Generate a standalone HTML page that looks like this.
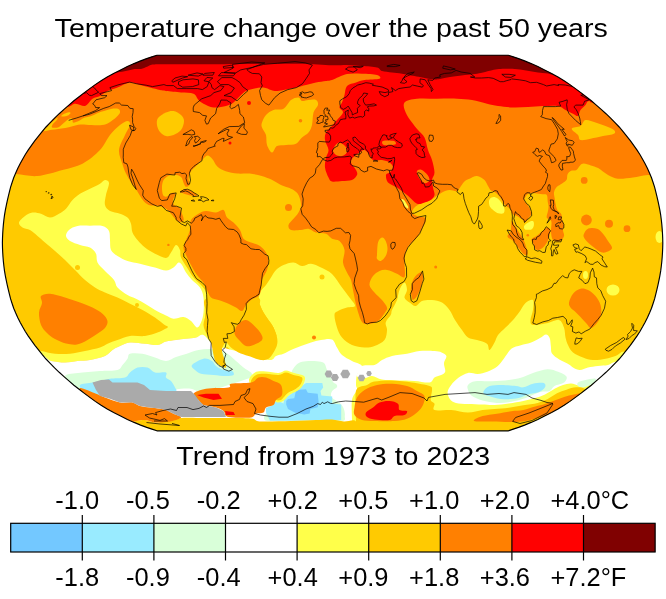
<!DOCTYPE html>
<html><head><meta charset="utf-8">
<style>
html,body{margin:0;padding:0;background:#fff;}
body{width:666px;height:599px;overflow:hidden;font-family:"Liberation Sans",sans-serif;}
svg{display:block}
text{font-family:"Liberation Sans",sans-serif;fill:#000}
.t{opacity:0.999}
</style></head><body>
<svg width="666" height="599" viewBox="0 0 666 599">
<rect width="666" height="599" fill="#fff"/>
<g class="t"><text transform="translate(331.2,36.8) scale(1.1,1)" font-size="26" text-anchor="middle">Temperature change over the past 50 years</text>
<text transform="translate(333.2,465) scale(1.1,1)" font-size="26" text-anchor="middle">Trend from 1973 to 2023</text></g>
<defs><clipPath id="cl"><path d="M156.9 430.8 L152.7 429.4 L146.7 427.4 L140.6 425.1 L134.1 422.4 L127.4 419.4 L120.6 416.1 L113.6 412.6 L107.2 409 L101.1 405.2 L95.3 401.4 L89.8 397.4 L84.4 393.4 L79.1 389.3 L73.9 385.2 L68.9 380.9 L64 376.6 L59.2 372.3 L54.6 367.9 L50.2 363.4 L46 359 L42.1 354.4 L38.5 349.9 L34.9 345.3 L31.5 340.7 L28.3 336.1 L25.3 331.5 L22.6 326.8 L20.1 322.2 L17.7 317.5 L15.6 312.8 L13.7 308.2 L12.1 303.5 L10.6 298.9 L9.4 294.2 L8.3 289.6 L7.2 284.9 L6.2 280.2 L5.3 275.6 L4.5 270.9 L3.9 266.3 L3.4 261.6 L3 257 L2.7 252.3 L2.5 247.7 L2.4 243 L2.5 238.3 L2.7 233.7 L3 229 L3.4 224.4 L3.9 219.7 L4.5 215.1 L5.3 210.4 L6.2 205.8 L7.2 201.1 L8.3 196.4 L9.4 191.8 L10.6 187.1 L12.1 182.5 L13.7 177.8 L15.6 173.2 L17.7 168.5 L20.1 163.8 L22.6 159.2 L25.3 154.5 L28.3 149.9 L31.5 145.3 L34.9 140.7 L38.5 136.1 L42.1 131.6 L46 127 L50.2 122.6 L54.6 118.1 L59.2 113.7 L64 109.4 L68.9 105.1 L73.9 100.8 L79.1 96.7 L84.4 92.6 L89.8 88.6 L95.3 84.6 L101.1 80.8 L107.2 77 L113.6 73.4 L120.6 69.9 L127.4 66.6 L134.1 63.6 L140.6 60.9 L146.7 58.6 L152.7 56.6 L156.9 55.2 L508.3 55.2 L512.5 56.6 L518.5 58.6 L524.6 60.9 L531.1 63.6 L537.8 66.6 L544.6 69.9 L551.6 73.4 L558 77 L564.1 80.8 L569.9 84.6 L575.4 88.6 L580.8 92.6 L586.1 96.7 L591.3 100.8 L596.3 105.1 L601.2 109.4 L606 113.7 L610.6 118.1 L615 122.6 L619.2 127 L623.1 131.6 L626.7 136.1 L630.3 140.7 L633.7 145.3 L636.9 149.9 L639.9 154.5 L642.6 159.2 L645.1 163.8 L647.5 168.5 L649.6 173.2 L651.5 177.8 L653.1 182.5 L654.6 187.1 L655.8 191.8 L656.9 196.4 L658 201.1 L659 205.8 L659.9 210.4 L660.7 215.1 L661.3 219.7 L661.8 224.4 L662.2 229 L662.5 233.7 L662.7 238.3 L662.8 243 L662.7 247.7 L662.5 252.3 L662.2 257 L661.8 261.6 L661.3 266.3 L660.7 270.9 L659.9 275.6 L659 280.2 L658 284.9 L656.9 289.6 L655.8 294.2 L654.6 298.9 L653.1 303.5 L651.5 308.2 L649.6 312.8 L647.5 317.5 L645.1 322.2 L642.6 326.8 L639.9 331.5 L636.9 336.1 L633.7 340.7 L630.3 345.3 L626.7 349.9 L623.1 354.4 L619.2 359 L615 363.4 L610.6 367.9 L606 372.3 L601.2 376.6 L596.3 380.9 L591.3 385.2 L586.1 389.3 L580.8 393.4 L575.4 397.4 L569.9 401.4 L564.1 405.2 L558 409 L551.6 412.6 L544.6 416.1 L537.8 419.4 L531.1 422.4 L524.6 425.1 L518.5 427.4 L512.5 429.4 L508.3 430.8Z"/></clipPath></defs>
<g clip-path="url(#cl)">
<rect x="0" y="50" width="666" height="385" fill="#FFCA00"/>
<path d="M19 222.5C19.4 220.6 22.8 217.7 25 216C27.2 214.3 29.8 212.9 32.5 212.5C35.2 212.1 38.1 212.9 41 213.7C43.9 214.5 47 217.5 50 217.5C53 217.5 56.3 215.2 59 213.7C61.7 212.2 63.8 211 66 208.7C68.2 206.4 70.2 202.5 72.5 200C74.8 197.5 77.1 195.6 80 193.7C82.9 191.8 86.7 190.4 90 188.7C93.3 187 97.5 185.1 100 183.7C102.5 182.2 103.5 180.1 105 180C106.5 179.9 108.8 180.5 109 183C109.2 185.5 106.7 191.3 106 195C105.3 198.7 104.3 202.3 105 205C105.7 207.7 107.5 209.6 110 211C112.5 212.4 117.1 212.6 120 213.7C122.9 214.8 125.7 215.8 127.5 217.5C129.3 219.2 130.2 221.2 131 223.7C131.8 226.2 131.4 229.8 132.5 232.5C133.6 235.2 135.4 237.5 137.5 240C139.6 242.5 142.1 245.2 145 247.5C147.9 249.8 151.5 251.9 155 253.7C158.5 255.4 163.3 258.2 166 258C168.7 257.8 169.3 254.7 171 252.5C172.7 250.3 174.5 245.4 176 245C177.5 244.6 179.2 247.9 180 250C180.8 252.1 179.8 254.6 181 257.5C182.2 260.4 184.9 264.2 187 267.5C189.1 270.8 191.2 274.6 193.5 277.5C195.8 280.4 198.9 282.5 201 285C203.1 287.5 205.2 289.2 206 292.5C206.8 295.8 206.2 300.4 206 305C205.8 309.6 205.3 315 205 320C204.7 325 205.5 332.1 204 335C202.5 337.9 199 336.9 196 337.5C193 338.1 189.3 338.3 186 338.7C182.7 339.1 179.3 339.5 176 340C172.7 340.5 169.1 340.7 166 341.5C162.9 342.3 161 344.6 157.5 345C154 345.4 149.6 344.1 145 343.7C140.4 343.3 134.2 342.1 130 342.5C125.8 342.9 122.9 344.8 120 346C117.1 347.2 115 348.3 112.5 350C110 351.7 108.8 354.3 105 356C101.2 357.7 94.6 359.2 90 360C85.4 360.8 81.7 360.6 77.5 361C73.3 361.4 69.4 362.5 65 362.5C60.6 362.5 55.5 361.8 51 361C46.5 360.2 40.8 359.8 38 358C35.2 356.2 33.5 351.2 34 350C34.5 348.8 37.5 350.4 41 351C44.5 351.6 50.2 353.2 55 353.7C59.8 354.1 65 354.1 70 353.7C75 353.2 80 352 85 351C90 350 96.2 348.7 100 347.5C103.8 346.3 104.6 344.9 107.5 343.7C110.4 342.4 113.8 341.3 117.5 340C121.2 338.7 125.4 336.7 130 336C134.6 335.3 140.4 336.6 145 336C149.6 335.4 154.3 333.6 157.5 332.5C160.7 331.4 162.2 330.4 164 329.5C165.8 328.6 168 327.8 168 327C168 326.2 166.2 326.1 164 324.5C161.8 322.9 158.6 319.9 155 317.5C151.4 315.1 146.7 312.3 142.5 310C138.3 307.7 134.2 305.8 130 303.7C125.8 301.6 121.7 299.4 117.5 297.5C113.3 295.6 108.8 294.2 105 292.5C101.2 290.8 98.3 289.6 95 287.5C91.7 285.4 88.3 282.9 85 280C81.7 277.1 78.3 273.3 75 270C71.7 266.7 68.3 263.2 65 260C61.7 256.8 58.3 253.9 55 251C51.7 248.1 47.9 245 45 242.5C42.1 240 40 238.1 37.5 236C35 233.9 32.5 231.4 30 230C27.5 228.6 24.3 228.8 22.5 227.5C20.7 226.2 18.6 224.4 19 222.5Z" fill="#FFFF4A"/>
<path d="M258.5 302.5C258.5 300.4 258.8 295.4 260 292.5C261.2 289.6 264.2 287.5 266 285C267.8 282.5 269.3 280 271 277.5C272.7 275 273.9 272.1 276 270C278.1 267.9 280.6 266.2 283.5 265C286.4 263.8 290.4 262.3 293.5 262.5C296.6 262.7 299.1 265.8 302 266C304.9 266.2 307.8 263.4 311 263.7C314.2 263.9 317.5 265.8 321 267.5C324.5 269.2 328.5 270.7 332 274C335.5 277.3 339.1 283.6 342 287.5C344.9 291.4 347.3 294.4 349.5 297.5C351.7 300.6 355.4 304.3 355 306C354.6 307.7 349.8 306.7 347 307.5C344.2 308.3 340.1 309.8 338 311C335.9 312.2 334.7 312.2 334.5 315C334.3 317.8 335.8 323.8 337 327.5C338.2 331.2 339.5 334.6 342 337.5C344.5 340.4 348.2 343.3 352 345C355.8 346.7 360.8 347.3 364.5 347.5C368.2 347.7 371.2 347.2 374.5 346C377.8 344.8 382.4 342.7 384.5 340C386.6 337.3 386.8 332.9 387 330C387.2 327.1 385.1 325 385.7 322.5C386.3 320 389.6 317.1 390.7 315C391.8 312.9 390.9 312.5 392 310C393.1 307.5 395.8 303.3 397 300C398.2 296.7 398.2 292.9 399.5 290C400.8 287.1 403.2 282.5 404.5 282.5C405.8 282.5 407 287.5 407 290C407 292.5 404.1 295.4 404.5 297.5C404.9 299.6 407.6 301.1 409.5 302.5C411.4 303.9 413.6 306.2 415.7 306C417.8 305.8 419.3 302 422 301C424.7 300 428.7 299.8 432 300C435.3 300.2 439.1 300.8 442 302.5C444.9 304.2 447.3 307.1 449.5 310C451.7 312.9 452.9 316.7 455 320C457.1 323.3 459.8 327.1 462 330C464.2 332.9 465.5 335.8 468 337.5C470.5 339.2 473.8 339 477 340C480.2 341 484.9 342 487 343.7C489.1 345.4 488.2 350.2 489.5 350C490.8 349.8 493.1 345 494.5 342.5C495.9 340 496.2 337.5 498 335C499.8 332.5 503 330 505.5 327.5C508 325 510.8 322.5 513 320C515.2 317.5 516.9 315.3 519 312.5C521.1 309.7 523.2 305.1 525.5 303C527.8 300.9 531.8 298.8 533 300C534.2 301.2 533.4 306.7 533 310C532.6 313.3 530.5 317.5 530.5 320C530.5 322.5 530.1 324.5 533 325C535.9 325.5 543.7 323.8 548 323C552.3 322.2 556.3 319.2 559 320C561.7 320.8 562.9 324.6 564 327.5C565.1 330.4 564.8 334.6 565.5 337.5C566.2 340.4 566.8 342.5 568 345C569.2 347.5 570.5 350.4 573 352.5C575.5 354.6 579.7 356.2 583 357.5C586.3 358.8 589.2 359.8 593 360C596.8 360.2 601.8 359.4 605.5 358.7C609.2 358 612.2 357.1 615.5 356C618.8 354.9 622.2 349.7 625 352C627.8 354.3 632.8 362 632 370C631.2 378 625.3 388.3 620 400C614.7 411.7 620 433.3 600 440C580 446.7 533.3 440 500 440C466.7 440 433.3 440 400 440C366.7 440 322 440 300 440C278 440 273.3 446.7 268 440C262.7 433.3 267.9 413.3 268 400C268.1 386.7 267.6 367.9 268.5 360C269.4 352.1 272.1 355 273.5 352.5C274.9 350 276.4 347.5 277 345C277.6 342.5 277.6 340.4 277 337.5C276.4 334.6 274.9 330.4 273.5 327.5C272.1 324.6 270.2 322.5 268.5 320C266.8 317.5 264.9 315 263.5 312.5C262.1 310 260.8 306.7 260 305C259.2 303.3 258.5 304.6 258.5 302.5Z" fill="#FFFF4A"/>
<path d="M490 198.7C490.8 197.9 492.3 197 493.6 197C494.9 197 496.6 197.7 498 198.7C499.4 199.7 500.6 201.5 501.7 203.2C502.8 204.8 504.1 206.9 504.4 208.6C504.7 210.3 504.6 212.4 503.5 213.2C502.4 214 499.6 213.6 498 213.2C496.4 212.8 494.9 211.6 493.6 210.5C492.3 209.4 490.8 208.2 490 206.8C489.2 205.4 489 203.3 489 202C489 200.7 489.2 199.5 490 198.7Z" fill="#FFFF4A"/>
<path d="M524.2 225.8C524.8 224.6 527.2 222.9 528.7 222.2C530.2 221.4 532.4 220.7 533.2 221.3C534.1 221.9 534.1 224.5 533.8 225.8C533.5 227.2 532.8 228.8 531.4 229.4C530 230 526.3 230 525.1 229.4C523.9 228.8 523.6 227 524.2 225.8Z" fill="#FFFF4A"/>
<ellipse cx="613" cy="290" rx="6.5" ry="5.5" fill="#FFFF4A"/>
<ellipse cx="659.5" cy="237" rx="4" ry="6" fill="#FFFF4A"/>
<ellipse cx="585.5" cy="275" rx="2.5" ry="4" fill="#FFFF4A"/>
<path d="M201 322C194.8 324.7 201.8 332.3 203 336C204.2 339.7 206.8 340.7 208 344C209.2 347.3 209.7 352.7 210.5 356C211.3 359.3 211.6 361.8 213 364C214.4 366.2 216.3 367.9 219 369C221.7 370.1 227.5 372 229 370.5C230.5 369 228.6 363.2 228 360C227.4 356.8 225.7 353.2 225.5 351C225.3 348.8 226.1 347 227 347C227.9 347 229.2 349.6 231 351C232.8 352.4 235.2 354.2 238 355.5C240.8 356.8 244.2 357.8 248 359C251.8 360.2 257.3 362.6 261 363C264.7 363.4 267.3 362.8 270 361.5C272.7 360.2 275.2 357.6 277 355C278.8 352.4 282.2 350.2 281 346C279.8 341.8 276.8 334.3 270 330C263.2 325.7 251.5 321.3 240 320C228.5 318.7 207.2 319.3 201 322Z" fill="#FFFF4A"/>
<path d="M66 236C65.8 234.2 67.1 231.7 69 230C70.9 228.3 74 226.7 77.5 226C81 225.3 85.8 225.7 90 225.7C94.2 225.7 99.3 225.1 102.5 226C105.7 226.9 107.8 228.7 109 231C110.2 233.3 109.7 236.8 110 240C110.3 243.2 109.8 247.3 111 250C112.2 252.7 114.8 254.2 117.5 256C120.2 257.8 123.8 259.7 127.5 261C131.2 262.3 135.4 262.6 140 263.7C144.6 264.8 150.7 266.4 155 267.5C159.3 268.6 162.9 270.5 166 270.5C169.1 270.5 171.4 268.8 173.5 267.5C175.6 266.2 177.1 262.9 178.5 262.5C179.9 262.1 180.8 263.3 182 265C183.2 266.7 184.3 270 186 272.5C187.7 275 189.7 277.5 192 280C194.3 282.5 198.1 284.6 200 287.5C201.9 290.4 202.9 293.3 203.5 297.5C204.1 301.7 203.9 308.3 203.5 312.5C203.1 316.7 202.1 320 201 322.5C199.9 325 198.7 327.8 197 327.5C195.3 327.2 193.2 322.8 191 321C188.8 319.2 186.4 317.4 183.5 317C180.6 316.6 176.4 318.9 173.5 318.7C170.6 318.4 169.1 316.9 166 315.5C162.9 314.1 158.5 312 155 310C151.5 308 148.2 305.6 145 303.7C141.8 301.8 138.9 300.1 136 298.7C133.1 297.2 130.6 296.9 127.5 295C124.4 293.1 119.8 290 117.5 287.5C115.2 285 116.1 282.8 114 280C111.9 277.2 107.8 273.9 105 271C102.2 268.1 99 265.4 97.5 262.5C96 259.6 97.2 256.2 96 253.7C94.8 251.2 92.7 248.9 90 247.5C87.3 246.1 83.3 246.1 80 245C76.7 243.9 72.3 242.5 70 241C67.7 239.5 66.2 237.8 66 236Z" fill="#FFFFFF"/>
<path d="M40 358C42.7 351.5 46.8 360.2 51 361C55.2 361.8 60.6 362.5 65 362.5C69.4 362.5 73.3 361.4 77.5 361C81.7 360.6 85.4 360.8 90 360C94.6 359.2 101.2 357.7 105 356C108.8 354.3 110 351.7 112.5 350C115 348.3 117.1 347.2 120 346C122.9 344.8 125.8 342.9 130 342.5C134.2 342.1 140.4 343.3 145 343.7C149.6 344.1 154 345.4 157.5 345C161 344.6 162.9 342.3 166 341.5C169.1 340.7 172.7 340.5 176 340C179.3 339.5 182.7 339.1 186 338.7C189.3 338.3 193.1 338.1 196 337.5C198.9 336.9 200.3 333.8 203.5 335C206.7 336.2 208.9 342.2 215 345C221.1 347.8 231.1 349.5 240 352C248.9 354.5 262.5 359.3 268.5 360C274.5 360.7 273.5 357.1 276 356C278.5 354.9 281 354.7 283.5 353.7C286 352.7 288.1 351.3 291 350C293.9 348.7 297.7 347.2 301 346C304.3 344.8 307.7 343.5 311 342.5C314.3 341.5 317.5 340.5 321 340C324.5 339.5 329.3 338.2 332 339.5C334.7 340.8 335.3 344.9 337 347.5C338.7 350.1 339.5 352.8 342 355C344.5 357.2 348.7 359.2 352 361C355.3 362.8 361.2 363.7 362 366C362.8 368.3 358 371.8 357 375C356 378.2 356 382.5 356 385C356 387.5 357.7 387.5 357 390C356.3 392.5 352.8 395 352 400C351.2 405 352 413.3 352 420C352 426.7 360.7 436.7 352 440C343.3 443.3 325.3 440 300 440C274.7 440 233.3 440 200 440C166.7 440 126.7 440 100 440C73.3 440 50.8 446.7 40 440C29.2 433.3 35 413.7 35 400C35 386.3 37.3 364.5 40 358Z" fill="#FFFFFF"/>
<path d="M362 366C364.9 364.2 371.2 366 374.5 365C377.8 364 379.1 361.5 382 360C384.9 358.5 387.8 357.1 392 356C396.2 354.9 402.4 354.5 407 353.7C411.6 352.9 414.9 351.4 419.5 351C424.1 350.6 430.8 350.8 434.5 351C438.2 351.2 439.6 351.6 441.6 352.4C443.6 353.2 446 354.2 446.4 356C446.8 357.8 444.2 360.6 444 363.2C443.8 365.8 445.8 369.7 445.2 371.7C444.6 373.7 442.2 374.3 440.4 375.3C438.6 376.3 436.3 376.3 434.5 377.5C432.7 378.7 432.8 381.9 429.5 382.5C426.2 383.1 419.9 381.3 414.5 381C409.1 380.7 402.4 380.8 397 380.5C391.6 380.2 386.2 380.2 382 379.5C377.8 378.8 374.8 376.2 372 376C369.2 375.8 367.5 378 365 378C362.5 378 357.5 378 357 376C356.5 374 359.1 367.8 362 366Z" fill="#FFFFFF"/>
<path d="M447.6 392C447.8 389.6 449.4 387.3 451.2 384.9C453 382.5 455.6 379.7 458.4 377.7C461.2 375.7 464.8 373.5 468 372.9C471.2 372.3 474.5 374.2 477.7 374C480.9 373.8 484.1 372.9 487.3 371.7C490.5 370.5 494.1 369 496.9 366.8C499.7 364.6 501.6 361.4 504 358.4C506.4 355.4 508.5 351 511.3 348.8C514.1 346.6 517.7 346.2 520.9 345.2C524.1 344.2 527.3 344 530.5 342.8C533.7 341.6 537.4 339.4 540 338C542.6 336.6 544.4 334.4 546 334.4C547.6 334.4 548.9 336 549.7 338C550.5 340 550.5 343.8 550.9 346.4C551.3 349 550.6 351.4 552 353.6C553.4 355.8 556.5 357.8 559.3 359.6C562.1 361.4 566.6 363 569 364.4C571.4 365.8 572 367.1 573.8 368C575.6 368.9 577.6 370.1 580 370C582.4 369.9 585 368.2 588 367.5C591 366.8 594.7 366.4 598 366C601.3 365.6 605 365.7 608 365C611 364.3 614.3 361.2 616 362C617.7 362.8 620.7 367.2 618 370C615.3 372.8 604.7 376.8 600 379C595.3 381.2 593.3 381.9 590 383C586.7 384.1 583.2 385.4 580 385.5C576.8 385.6 573.8 383.6 571 383.5C568.2 383.4 565.7 384.2 563 385C560.3 385.8 558 386.9 555 388.5C552 390.1 548.3 392.9 545 394.5C541.7 396.1 538.9 396.9 535.3 398C531.7 399.1 527.7 400.1 523.3 401C518.9 401.9 513.7 402.8 508.9 403.5C504.1 404.2 498.9 404.8 494.5 405C490.1 405.2 486.9 404.8 482.5 404.6C478.1 404.4 472.4 404.3 468 404C463.6 403.7 459 403.7 456 402.9C453 402.1 451.4 401.1 450 399.3C448.6 397.5 447.4 394.4 447.6 392Z" fill="#FFFFFF"/>
<path d="M66 375C68.8 373.4 76.8 373.2 82.5 372.5C88.2 371.8 94.2 371.4 100 371C105.8 370.6 113.8 371 117.5 370C121.2 369 120.8 366.9 122.5 365C124.2 363.1 126.2 360.6 127.5 358.7C128.8 356.8 127.5 354.5 130 353.7C132.5 352.9 138.3 353.1 142.5 353.7C146.7 354.3 151.1 356.3 155 357.5C158.9 358.7 162.5 361.1 166 361C169.5 360.9 172.7 358.2 176 357C179.3 355.8 182.2 355.2 186 354C189.8 352.8 194.2 350.8 198.5 350C202.8 349.2 207.6 348.7 212 349C216.4 349.3 221 350 225 352C229 354 232.9 358.4 236 361C239.1 363.6 241 365.6 243.5 367.5C246 369.4 249.6 371.1 251 372.5C252.4 373.9 252 375.2 252 376C252 376.8 252.8 376.7 251 377.5C249.2 378.3 244.8 379.8 241 381C237.2 382.2 231.8 383.9 228.5 385C225.2 386.1 223.9 386.7 221 387.5C218.1 388.3 214.8 389.4 211 390C207.2 390.6 201.8 391.2 198.5 391C195.2 390.8 193.9 389.1 191 388.7C188.1 388.3 183.9 388.5 181 388.7C178.1 388.9 176 389.3 173.5 390C171 390.7 173.2 392.2 166 393C158.8 393.8 141 394.7 130 395C119 395.3 108.3 395.5 100 395C91.7 394.5 85.7 394.2 80 392C74.3 389.8 68.3 384.8 66 382C63.7 379.2 63.2 376.6 66 375Z" fill="#D9FFD9"/>
<path d="M293.4 368.5C294.5 366.7 296.7 364.3 298.8 363.1C300.9 361.9 303 361.6 306 361.3C309 361 313.8 361 316.8 361.3C319.8 361.6 322.3 361.8 324 363.1C325.7 364.5 325.9 367.4 326.8 369.4C327.7 371.3 328.5 372.7 329.5 374.8C330.5 376.9 331.8 380.4 333 382C334.2 383.6 336.1 383.8 336.7 384.7C337.3 385.6 337.4 386.3 336.7 387.4C335.9 388.4 333.1 389.4 332.2 391C331.3 392.6 330.1 394.9 331.5 397C332.9 399.1 338.2 401.6 340.3 403.6C342.4 405.6 343.1 406.9 343.9 409C344.6 411.1 345.1 414.3 344.8 416.3C344.5 418.3 346.8 420.4 342 421C337.2 421.6 324.5 420 316 420C307.5 420 299 420.8 291 421C283 421.2 272.5 421.6 268 421C263.5 420.4 264.2 419 264 417.5C263.8 416 265.2 414.6 267 412C268.8 409.4 271.2 405.7 275 402C278.8 398.3 285.8 393.7 290 390C294.2 386.3 299.7 382.7 300 380C300.3 377.3 293.1 375.9 292 374C290.9 372.1 292.3 370.3 293.4 368.5Z" fill="#D9FFD9"/>
<path d="M468 384.9C469.2 383.5 471.3 381.9 475.3 381.3C479.3 380.7 486.4 381.5 492 381.3C497.6 381.1 504.1 380.6 508.9 380C513.7 379.4 516.9 378.9 520.9 377.7C524.9 376.5 528.6 374.3 533 372.9C537.4 371.5 543.1 369.4 547.3 369.2C551.5 369 554.9 370.5 558.1 371.7C561.3 372.9 565.5 374.7 566.5 376.5C567.5 378.3 566.1 380.9 564.1 382.5C562.1 384.1 556.9 384.6 554.5 386C552.1 387.4 552.1 389.9 549.7 390.9C547.3 391.9 544 390.8 540 392C536 393.2 530.5 396.4 525.7 398C520.9 399.6 516.1 400.9 511.3 401.7C506.5 402.5 501.7 403.1 496.9 402.9C492.1 402.7 486.7 401.7 482.5 400.5C478.3 399.3 474.1 397.5 471.7 395.7C469.3 393.9 468.6 391.5 468 389.7C467.4 387.9 466.8 386.3 468 384.9Z" fill="#D9FFD9"/>
<path d="M578 382.5C579.2 381.5 582.6 380.6 585.5 380C588.4 379.4 594.2 378.1 595.5 378.7C596.8 379.3 595.1 382.2 593 383.7C590.9 385.2 585.5 387.1 583 387.5C580.5 387.9 578.8 386.8 578 386C577.2 385.2 576.8 383.5 578 382.5Z" fill="#D9FFD9"/>
<path d="M80 385C81.2 383.4 89.2 383.2 92.5 382.5C95.8 381.8 97.1 381.6 100 381C102.9 380.4 105.8 379.3 110 378.7C114.2 378.1 121.7 378.5 125 377.5C128.3 376.5 127.9 374.2 130 372.5C132.1 370.8 134.6 368.3 137.5 367.5C140.4 366.7 144.6 366.7 147.5 367.5C150.4 368.3 151.9 371.7 155 372.5C158.1 373.3 164.2 371.7 166 372.5C167.8 373.3 165.2 376.1 166 377.5C166.8 378.9 169.5 379.3 171 381C172.5 382.7 174.2 385.8 175 387.5C175.8 389.2 177.5 390.1 176 391C174.5 391.9 173.7 392.3 166 393C158.3 393.7 141 394.7 130 395C119 395.3 107.5 395.5 100 395C92.5 394.5 88.3 393.7 85 392C81.7 390.3 78.8 386.6 80 385Z" fill="#99EBFF"/>
<path d="M192 365C193.4 363.1 200.2 359.4 203.5 358.7C206.8 358 209.9 359.8 212 361C214.1 362.2 214.1 364.5 216 366C217.9 367.5 220.8 369.2 223.5 370C226.2 370.8 230.3 370.2 232 371C233.7 371.8 234.5 374.2 233.5 375C232.5 375.8 229.3 376 226 376C222.7 376 217.7 375.4 213.5 375C209.3 374.6 204.1 374.5 201 373.7C197.9 372.9 196.5 371.4 195 370C193.5 368.6 190.6 366.9 192 365Z" fill="#99EBFF"/>
<path d="M266 412.5 L266 408 L273.5 405 L276 400 L283.5 403.6 L284.4 398.2 L291.6 393.7 L293.4 390.1 L297 389.2 L306 383 L322.3 383 L323.2 387.4 L320.5 391 L321.4 395.5 L332.2 396.4 L332.2 403.6 L341.2 404.5 L341.2 420 L270 420.8Z" fill="#99EBFF"/>
<path d="M483.7 390.9C484.5 389.5 486.7 387 489.7 386C492.7 385 497.3 384.9 501.7 384.9C506.1 384.9 512.4 385.6 516 386C519.6 386.4 520.5 387.7 523.3 387.3C526.1 386.9 529.6 384.4 533 383.7C536.4 383 541.7 382.4 543.7 383C545.7 383.6 545.8 385.8 545 387.3C544.2 388.8 541.8 390.8 539 392C536.2 393.2 531.4 393.5 528 394.5C524.6 395.5 522.5 397.2 518.5 398C514.5 398.8 508.4 399.5 504 399.3C499.6 399.1 495.2 397.7 492 396.9C488.8 396.1 486.3 395.5 484.9 394.5C483.5 393.5 482.9 392.3 483.7 390.9Z" fill="#99EBFF"/>
<path d="M286.2 401 L288 399.1 L294.3 398.2 L296.1 390.1 L306 389.2 L307.8 392.8 L317.7 393.7 L318.6 401.8 L317.7 407.3 L310.5 409 L309.6 413.6 L304.2 414.5 L295.2 412.7 L288 409 L286.2 404.5Z" fill="#73C8FF"/>
<path d="M204.7 300C202.4 302.9 206.2 308.3 206 312.5C205.8 316.7 203.3 321.2 203.5 325C203.7 328.8 205.8 332.1 207 335C208.2 337.9 209.9 339.2 211 342.5C212.1 345.8 212.7 351.7 213.5 355C214.3 358.3 214.8 360.7 216 362.5C217.2 364.3 219.3 365.2 221 366C222.7 366.8 225.4 368.5 226 367.5C226.6 366.5 225.4 362.9 224.7 360C224 357.1 221.8 352.9 222 350C222.2 347.1 224.5 342.9 226 342.5C227.5 342.1 228.9 345.8 231 347.5C233.1 349.2 235.6 351.1 238.5 352.5C241.4 353.9 244.8 354.8 248.5 356C252.2 357.2 257.7 359.6 261 360C264.3 360.4 266.4 359.9 268.5 358.7C270.6 357.4 272.1 354.8 273.5 352.5C274.9 350.2 276.4 347.5 277 345C277.6 342.5 277.6 340.4 277 337.5C276.4 334.6 274.9 330.4 273.5 327.5C272.1 324.6 270.2 322.5 268.5 320C266.8 317.5 264.9 315 263.5 312.5C262.1 310 260.8 307.4 260 305C259.2 302.6 261.8 299.7 258.5 298C255.2 296.3 246.4 295.5 240 295C233.6 294.5 225.9 294.2 220 295C214.1 295.8 207 297.1 204.7 300Z" fill="#FFCA00"/>
<path d="M249 381C248.5 377.9 252.2 374.1 255 372.5C257.8 370.9 262.1 371.4 266 371.5C269.9 371.6 275.2 373.2 278.5 373C281.8 372.8 283.4 370.5 286 370.5C288.6 370.5 290.9 372 294 373C297.1 374 303 374.5 304.5 376.5C306 378.5 304.1 382.7 303 385C301.9 387.3 300.2 388.9 298 390.5C295.8 392.1 292.2 393 290 394.5C287.8 396 286.5 398.2 285 399.5C283.5 400.8 282.5 401.6 281 402C279.5 402.4 278.2 403 276 402C273.8 401 271 397.8 268 396C265 394.2 261.2 393.5 258 391C254.8 388.5 249.5 384.1 249 381Z" fill="#FFFF4A"/>
<path d="M251 382.5C250.3 380 253.5 376.5 256 375C258.5 373.5 262.2 373.7 266 373.7C269.8 373.7 275.2 375.2 278.5 375C281.8 374.8 283.5 372.5 286 372.5C288.5 372.5 290.8 374.2 293.5 375C296.2 375.8 300.8 376.1 302 377.5C303.2 378.9 302 381.8 301 383.7C300 385.6 298.1 387.2 296 388.7C293.9 390.2 290.6 391 288.5 392.5C286.4 394 284.8 396.2 283.5 397.5C282.2 398.8 282.2 399.6 281 400C279.8 400.4 277.8 400.8 276 400C274.2 399.2 272.7 396.7 270 395C267.3 393.3 263.2 392.1 260 390C256.8 387.9 251.7 385 251 382.5Z" fill="#FFCA00"/>
<path d="M356 421C355.9 414.3 355.3 405.4 355.5 400C355.7 394.6 355.1 391.2 357 388.7C358.9 386.2 364.1 386.2 367 385C369.9 383.8 370.3 382.2 374.5 381.5C378.7 380.8 385.8 380.3 392 380.5C398.2 380.7 405.8 381.6 412 382.5C418.2 383.4 426.2 384.8 429.5 386C432.8 387.2 431.8 387.7 432 390C432.2 392.3 430.3 397.7 430.7 400C431.1 402.3 433.9 402 434.5 403.7C435.1 405.4 431.7 408.9 434.5 410C437.3 411.1 445.6 409.6 451.2 410C456.8 410.4 462.8 412.5 468 412.5C473.2 412.5 478.1 410.6 482.5 410C486.9 409.4 490.1 409.3 494.5 408.9C498.9 408.5 504.1 408.3 508.9 407.7C513.7 407.1 518.5 406.1 523.3 405.3C528.1 404.5 533.7 403.9 537.7 402.9C541.7 401.9 544.1 400.9 547.3 399.3C550.5 397.7 553.8 394.9 557 393.3C560.2 391.7 563.3 390.7 566.5 389.7C569.7 388.7 572.9 387.4 576 387.3C579.1 387.2 581 386.9 585 389C589 391.1 597.5 391.5 600 400C602.5 408.5 616.7 433.3 600 440C583.3 446.7 533.3 440 500 440C466.7 440 424 440 400 440C376 440 363.3 443.2 356 440C348.7 436.8 356.1 427.7 356 421Z" fill="#FFCA00"/>
<path d="M128 426C129.3 422.8 133.2 422 136 421C138.8 420 141.8 419.8 145 420C148.2 420.2 151.5 422.3 155 422.5C158.5 422.7 161.7 421.8 166 421C170.3 420.2 175.3 418.5 181 418C186.7 417.5 192.5 418 200 418C207.5 418 217.5 417.9 226 418C234.5 418.1 245.2 417.9 251 418.5C256.8 419.1 254.3 421.1 261 421.5C267.7 421.9 281.8 421.2 291 421C300.2 420.8 309.2 420.2 316 420C322.8 419.8 327.3 419.2 332 419.5C336.7 419.8 340 421.2 344 421.5C348 421.8 354 418.4 356 421.5C358 424.6 373.7 436.9 356 440C338.3 443.1 288 440 250 440C212 440 148.3 442.3 128 440C107.7 437.7 126.7 429.2 128 426Z" fill="#FFCA00"/>
<circle cx="77.5" cy="267.5" r="2.5" fill="#FFCA00"/>
<circle cx="137" cy="305" r="2" fill="#FFCA00"/>
<circle cx="322" cy="277" r="2.5" fill="#FFCA00"/>
<path d="M-5 174C-1.5 186.3 8.9 173.7 16 174C23.1 174.3 29.8 176.7 37.5 176C45.2 175.3 55 172.1 62.5 170C70 167.9 76.2 167 82.5 163.7C88.8 160.4 95.4 154.8 100 150C104.6 145.2 106.7 139.2 110 135C113.3 130.8 117.1 127.3 120 125C122.9 122.7 125.8 121 127.5 121C129.2 121 130.4 122.7 130 125C129.6 127.3 126.8 130.8 125 135C123.2 139.2 119.4 145.2 119 150C118.6 154.8 121.2 160.1 122.4 164C123.6 167.9 124.6 170.6 126 173.6C127.4 176.6 129 179.2 130.8 182C132.6 184.8 134.8 187.5 136.8 190.5C138.8 193.5 140.8 197.6 142.8 200C144.8 202.4 146.2 203.9 148.8 204.9C151.4 205.9 155.6 205.4 158.4 206C161.2 206.6 163.6 207.4 165.5 208.5C167.4 209.6 168.4 210.8 170 212.5C171.6 214.2 173.4 216.9 175 218.5C176.6 220.1 178.1 221.8 179.5 222C180.9 222.2 183.4 221.5 183.7 219.8C184 218.1 182.1 214.1 181.3 212C180.5 209.9 180.1 208.5 178.9 207.3C177.7 206.1 175 206.1 174 204.9C173 203.7 172.7 201.8 172.9 200C173.1 198.2 175.5 195.2 175.3 194C175.1 192.8 173.1 192.5 171.7 192.9C170.3 193.3 168.2 196.1 166.8 196.5C165.4 196.9 164 196.7 163.2 195.3C162.4 193.9 162 190.4 162 188C162 185.6 162.2 182.8 163.2 180.8C164.2 178.8 166 177 168 176C170 175 173.1 174.6 175.3 174.8C177.5 175 179.9 175.8 181.3 177.2C182.7 178.6 182.9 181.6 183.7 183.2C184.5 184.8 185 186.6 186 186.8C187 187 189.3 185.8 189.7 184.4C190.1 183 188.3 180.6 188.5 178.4C188.7 176.2 189.5 173.4 190.9 171.2C192.3 169 194.9 167.2 196.9 165.2C198.9 163.2 201.1 160.8 202.9 159.2C204.7 157.6 206.1 155.6 207.7 155.6C209.3 155.6 210.9 157.4 212.5 159.2C214.1 161 215.1 164.4 217.3 166.4C219.5 168.4 222.3 170 225.7 171.2C229.1 172.4 233.7 173.2 237.7 173.6C241.7 174 245.7 173.2 249.7 173.6C253.7 174 258.1 175 261.7 176C265.3 177 268.2 178.2 271.3 179.6C274.4 181 277.2 183.1 280 184.4C282.8 185.7 285.8 186.6 288 187.5C290.2 188.4 291.8 188.8 293.5 190C295.2 191.2 297.2 192.5 298.5 195C299.8 197.5 301 202.1 301 205C301 207.9 299.8 210.2 298.5 212.5C297.2 214.8 295.2 216.6 293.5 218.7C291.8 220.8 288.9 223.1 288.5 225C288.1 226.9 288.9 229.2 291 230C293.1 230.8 298.1 230.2 301 230C303.9 229.8 306 228.3 308.5 228.7C311 229.1 313.1 231.7 316 232.5C318.9 233.3 323.3 232.7 326 233.7C328.7 234.7 329.8 237.5 332 238.7C334.2 239.9 337.4 239.1 339.5 241C341.6 242.9 343.9 246.4 344.5 250C345.1 253.6 342.6 258.8 343 262.5C343.4 266.2 345.7 269.6 347 272.5C348.3 275.4 350 277.1 351 280C352 282.9 352.3 286.7 353 290C353.7 293.3 354.2 296.3 355 300C355.8 303.7 356.8 308.3 358 312C359.2 315.7 360.3 320 362 322C363.7 324 365.3 324.2 368 324C370.7 323.8 375.2 322.9 378 321C380.8 319.1 383.5 314.8 385 312.5C386.5 310.2 387.5 309.6 387 307.5C386.5 305.4 384.1 302.5 382 300C379.9 297.5 376.6 295 374.5 292.5C372.4 290 369.8 287.8 369.5 285C369.2 282.2 371.3 278.3 373 276C374.7 273.7 377.2 272 379.5 271C381.8 270 384.1 269.6 387 270C389.9 270.4 394.1 272.5 397 273.7C399.9 274.9 403.2 278.9 404.5 277C405.8 275.1 404.3 266.6 404.5 262.5C404.7 258.4 404.9 255.4 405.7 252.5C406.5 249.6 407.6 247.5 409.5 245C411.4 242.5 414.9 240.2 417 237.5C419.1 234.8 420.6 231.4 422 228.7C423.4 225.9 425.3 222.9 425.7 221C426.1 219.1 425.9 218.3 424.5 217.5C423.1 216.7 419.1 216.8 417 216C414.9 215.2 412.4 213.9 412 212.5C411.6 211.1 413.2 208.9 414.5 207.5C415.8 206.1 417.3 205.2 420 204C422.7 202.8 428.3 201.1 430.7 200C433.1 198.9 432.6 198.8 434.5 197.5C436.4 196.2 439.5 193.8 442 192.5C444.5 191.2 447 190.2 449.5 190C452 189.8 455.1 191.7 457 191C458.9 190.3 459.7 187.7 461 186C462.3 184.3 463.6 182.2 465 181C466.4 179.8 467.5 179.5 469.5 178.7C471.5 177.9 474.5 175.8 477 176C479.5 176.2 482.7 178.3 484.5 180C486.3 181.7 486.9 184.2 488 186C489.1 187.8 489.8 189.5 491 190.6C492.2 191.7 494.1 191.5 495.4 192.4C496.7 193.3 497.8 194.5 499 196C500.2 197.5 501.4 199.7 502.6 201.4C503.8 203.1 505 204.8 506.2 206C507.4 207.2 508.8 207.3 509.8 208.6C510.9 209.9 511.3 212.8 512.5 214C513.7 215.2 515.4 215 517 215.9C518.6 216.8 521 218.4 522.4 219.5C523.8 220.6 524 222.5 525.1 222.2C526.2 221.9 527.7 219.1 528.7 217.7C529.8 216.3 531.2 215.5 531.4 214C531.5 212.5 530.4 210.2 529.6 208.6C528.9 206.9 527.8 205.4 526.9 204.1C526 202.8 524.4 201.8 524.2 200.5C524.1 199.2 525.1 197.2 526 196C526.9 194.8 528.1 193.8 529.6 193.3C531.1 192.9 532.9 193.2 535 193.3C537.1 193.5 540.3 193.9 542.3 194.2C544.3 194.5 545.9 193.9 546.8 195.1C547.7 196.3 547.4 199.4 547.7 201.4C548 203.4 548.6 205 548.6 206.8C548.6 208.6 548 210.5 547.7 212.3C547.4 214.1 546.2 216.2 546.8 217.7C547.4 219.2 550.6 218.9 551.3 221.3C552 223.7 550.7 228.9 551 232C551.3 235.1 551.5 238.5 553 240C554.5 241.5 558.2 241.7 560 241C561.8 240.3 563.5 237.8 564 236C564.5 234.2 563 232.2 563 230.3C563 228.5 564 226.7 563.9 224.9C563.8 223.1 562.5 221.3 562.1 219.5C561.7 217.7 562 215.5 561.2 214C560.5 212.5 558.5 212 557.6 210.5C556.7 209 556.2 206.8 555.8 205C555.3 203.2 555.2 201.7 554.9 199.6C554.6 197.5 553.7 194.5 554 192.4C554.3 190.3 555.4 188.5 556.7 187C558.1 185.5 560.5 184.6 562.1 183.4C563.8 182.2 565.7 181.3 566.6 179.8C567.5 178.3 566.8 175.9 567.5 174.4C568.2 172.9 569.6 171.6 571.1 170.8C572.6 170.1 575 170.8 576.5 169.9C578 169 578.9 166.5 580.1 165.4C581.3 164.3 581.9 163.6 583.7 163.6C585.5 163.6 588.5 164.7 590.9 165.4C593.3 166.2 595.2 166.5 598.1 168.1C601 169.7 604.7 173.2 608 175C611.3 176.8 613.8 178.3 618 178.7C622.2 179.1 628 178.1 633 177.5C638 176.9 641.5 175.6 648 175C654.5 174.4 668 186.5 672 174C676 161.5 672 122.3 672 100C672 77.7 717.3 50 672 40C626.7 30 512.8 40 400 40C287.2 40 62.5 30 -5 40C-72.5 50 -5 77.7 -5 100C-5 122.3 -8.5 161.7 -5 174Z" fill="#FF8000"/>
<path d="M191 220C192.4 217.3 196 215.2 198.5 213.7C201 212.2 203.1 211.2 206 211C208.9 210.8 213.1 212.7 216 212.5C218.9 212.3 221.7 209.2 223.5 210C225.3 210.8 225.3 215.4 227 217.5C228.7 219.6 231.3 220.4 233.5 222.5C235.7 224.6 238.3 227.3 240 230C241.7 232.7 241.7 236.6 243.5 238.7C245.3 240.8 248.2 241.3 251 242.5C253.8 243.7 257.5 244.3 260 246C262.5 247.7 264.6 250.2 266 252.5C267.4 254.8 268.3 257.1 268.5 260C268.7 262.9 268.1 266.7 267 270C265.9 273.3 263 276.7 262 280C261 283.3 261.6 287.3 261 290C260.4 292.7 260.2 294.3 258.5 296C256.8 297.7 253.1 298.5 251 300C248.9 301.5 247.5 303.2 246 305C244.5 306.8 243.7 310.6 242 311C240.3 311.4 238.2 308.7 236 307.5C233.8 306.3 231.4 304.9 228.5 303.7C225.6 302.4 221.4 301 218.5 300C215.6 299 212.9 299.2 211 297.5C209.1 295.8 208.2 292.5 207 290C205.8 287.5 205.2 285 203.5 282.5C201.8 280 199.1 277.9 197 275C194.9 272.1 192.8 268.3 191 265C189.2 261.7 187.2 257.9 186 255C184.8 252.1 183.5 250 183.5 247.5C183.5 245 184.9 242.9 186 240C187.1 237.1 189.2 233.3 190 230C190.8 226.7 189.6 222.7 191 220Z" fill="#FF8000"/>
<path d="M235 330C235.6 328.1 236.7 325.4 238.5 323.7C240.3 322 243.5 319.8 246 320C248.5 320.2 251 322.7 253.5 325C256 327.3 259.6 331.2 261 333.7C262.4 336.2 263.2 338.1 262 340C260.8 341.9 256.2 344 253.5 345C250.8 346 248.2 346.7 246 346C243.8 345.3 241.8 342.8 240 341C238.2 339.2 235.8 336.8 235 335C234.2 333.2 234.4 331.9 235 330Z" fill="#FF8000"/>
<path d="M180 191.6C180.2 190.8 184 189.2 186 189.2C188 189.2 190.2 190.6 192 191.6C193.8 192.6 196.9 194.6 196.9 195.3C196.9 196 194 195.9 192 195.7C190 195.5 186.9 194.7 184.9 194C182.9 193.3 179.8 192.4 180 191.6Z" fill="#FF8000"/>
<path d="M41 296C42.3 294.4 46 293.4 50 293.7C54 293.9 60 296 65 297.5C70 299 75.4 300.8 80 302.5C84.6 304.2 88.8 305.6 92.5 307.5C96.2 309.4 100 311.4 102.5 313.7C105 315.9 107.1 318.6 107.5 321C107.9 323.4 106.8 325.8 105 328C103.2 330.2 99.9 332 97 334C94.1 336 90.8 338.2 87.5 340C84.2 341.8 80.6 343.9 77 344.5C73.4 345.1 69.7 344.4 66 343.5C62.3 342.6 58.2 340.8 55 339C51.8 337.2 49.3 335.3 47 333C44.7 330.7 42.3 328.4 41 325C39.7 321.6 38.8 316.2 39 312.5C39.2 308.8 41.7 305.8 42 303C42.3 300.2 39.7 297.6 41 296Z" fill="#FF8000"/>
<circle cx="288.5" cy="207.5" r="3.5" fill="#FF8000"/>
<circle cx="314" cy="337.5" r="2" fill="#FF8000"/>
<circle cx="168.4" cy="244.9" r="1.2" fill="#FF8000"/>
<path d="M412 297.5C411.6 295.8 410.5 292.9 410.7 290C410.9 287.1 411.8 282.7 413 280C414.2 277.3 416.5 274.9 418 273.7C419.5 272.4 421.2 271.7 422 272.5C422.8 273.3 423.2 276.2 423 278.7C422.8 281.2 421.7 284.6 420.7 287.5C419.7 290.4 418.3 293.9 417 296C415.7 298.1 413.8 299.8 413 300C412.2 300.2 412.4 299.2 412 297.5Z" fill="#FF8000"/>
<circle cx="435.7" cy="267" r="1.5" fill="#FF8000"/>
<path d="M531.4 239.3C532 238 535 237 536.8 235.7C538.6 234.3 540.5 232.5 542.3 231.2C544.1 229.8 546.4 227.8 547.7 227.6C549.1 227.4 550.1 229 550.4 230.3C550.7 231.7 550 233.9 549.5 235.7C549 237.5 548.6 239.3 547.7 241.1C546.8 242.9 545.5 245 544 246.5C542.5 248 540.1 249.8 538.6 250.1C537.1 250.4 535.9 249.4 535 248.3C534.1 247.2 533.8 245.3 533.2 243.8C532.6 242.3 530.8 240.7 531.4 239.3Z" fill="#FF8000"/>
<path d="M508 234.8C508.4 233.8 510.1 233.4 510.7 231.2C511.3 228.9 511 222.4 511.6 221.3C512.2 220.2 513.1 223.1 514.3 224.9C515.5 226.7 517.3 229.6 518.8 232C520.3 234.4 522.1 236.9 523.3 239.3C524.5 241.7 525.2 244.1 526 246.5C526.8 248.9 528.1 252.3 527.8 253.7C527.5 255 525.7 255.5 524.2 254.6C522.7 253.7 520.6 250.6 518.8 248.3C517 246.1 515.2 242.9 513.4 241.1C511.6 239.3 508.9 238.6 508 237.5C507.1 236.4 507.6 235.9 508 234.8Z" fill="#FF8000"/>
<circle cx="527.8" cy="235.3" r="1.3" fill="#FF8000"/>
<path d="M584 233.7C584.7 232.2 585.8 229.5 588 228.7C590.2 227.9 594.5 227.9 597 228.7C599.5 229.5 601.2 231.6 603 233.7C604.8 235.8 606.5 238.7 608 241C609.5 243.3 611.8 245.8 612 247.5C612.2 249.2 610.7 250.2 609 251C607.3 251.8 604.5 253.1 602 252.5C599.5 251.9 596.3 249.2 594 247.5C591.7 245.8 589.7 244.2 588 242.5C586.3 240.8 584.7 239 584 237.5C583.3 236 583.3 235.2 584 233.7Z" fill="#FF8000"/>
<circle cx="586.4" cy="220" r="5.4" fill="#FF8000"/>
<circle cx="609" cy="223.7" r="4" fill="#FF8000"/>
<circle cx="627" cy="228.7" r="3.4" fill="#FF8000"/>
<circle cx="584.2" cy="180.4" r="3.4" fill="#FF8000"/>
<path d="M569 302.5C569.4 300.2 571.1 296 573 293.7C574.9 291.4 578 289.3 580.5 288.7C583 288.1 585.5 288.8 588 290C590.5 291.2 593.4 293.5 595.5 296C597.6 298.5 599.6 301.8 600.5 305C601.4 308.2 601.6 312 601 315C600.4 318 598.7 320.8 597 323C595.3 325.2 592.8 328 591 328C589.2 328 587.8 324.8 586 323C584.2 321.2 582.2 318.8 580.5 317C578.8 315.2 577.2 313.6 575.5 312C573.8 310.4 571.6 309.1 570.5 307.5C569.4 305.9 568.6 304.8 569 302.5Z" fill="#FF8000"/>
<path d="M80 388C81.8 387.3 91.8 392.1 96 393.7C100.2 395.3 101 396 105 397.5C109 399 115.4 401.7 120 402.5C124.6 403.3 129.2 401.9 132.5 402.5C135.8 403.1 137.1 405.2 140 406C142.9 406.8 146.7 407.1 150 407.5C153.3 407.9 157.3 408.3 160 408.7C162.7 409.1 163.8 409.2 166 410C168.2 410.8 171 412.5 173.5 413.7C176 414.9 180.6 415.9 181 417C181.4 418.1 178.5 419.2 176 420C173.5 420.8 169.5 421.6 166 422C162.5 422.4 158.5 422.8 155 422.5C151.5 422.2 148.2 420.2 145 420C141.8 419.8 139.3 420.3 136 421C132.7 421.7 131 425.8 125 424C119 422.2 106.7 414.3 100 410C93.3 405.7 88.3 401.7 85 398C81.7 394.3 78.2 388.7 80 388Z" fill="#FF8000"/>
<path d="M193.5 393.7C194.8 391.8 200.2 389.7 206 388.7C211.8 387.7 224.3 388.3 228.5 387.5C232.7 386.7 227.2 384.5 231 383.7C234.8 382.9 246.4 383.5 251 382.5C255.6 381.5 256 378.3 258.5 377.5C261 376.7 263.5 376.9 266 377.5C268.5 378.1 271 379.8 273.5 381C276 382.2 279.6 382.7 281 385C282.4 387.3 282.8 392.5 282 395C281.2 397.5 277.4 398.3 276 400C274.6 401.7 275.2 403.8 273.5 405C271.8 406.2 267.7 406.2 266 407.5C264.3 408.8 265.2 411.5 263.5 412.5C261.8 413.5 258.1 412.9 256 413.7C253.9 414.5 254.8 416.9 251 417.5C247.2 418.1 237.7 417.8 233.5 417.5C229.3 417.2 227.7 417.1 226 416C224.3 414.9 225.2 412.4 223.5 411C221.8 409.6 219.3 408.5 216 407.5C212.7 406.5 206.4 406.2 203.5 405C200.6 403.8 200.2 401.9 198.5 400C196.8 398.1 192.2 395.6 193.5 393.7Z" fill="#FF8000"/>
<path d="M354.5 407.5C354.9 404.6 355.3 400.4 357 397.5C358.7 394.6 361.2 392.1 364.5 390C367.8 387.9 372.4 386.1 377 385C381.6 383.9 387 383.5 392 383.7C397 383.9 402.8 384.8 407 386C411.2 387.2 414.1 389.3 417 391C419.9 392.7 423.5 393.7 424.5 396C425.5 398.3 424.2 402.2 423 405C421.8 407.8 419.7 410.2 417 412.5C414.3 414.8 410.8 417.3 407 418.7C403.2 420.1 399.9 420.6 394.5 421C389.1 421.4 379.9 421.2 374.5 421C369.1 420.8 365.3 421 362 420C358.7 419 355.8 417.1 354.5 415C353.2 412.9 354.1 410.4 354.5 407.5Z" fill="#FF8000"/>
<path d="M474 420.9C472.4 420 478.7 417.3 482.5 416.1C486.3 414.9 492.1 414.5 496.9 413.7C501.7 412.9 506.9 411.8 511.3 411.2C515.7 410.6 519.3 410.9 523.3 410.1C527.3 409.3 531.7 407.5 535.3 406.5C538.9 405.5 541.8 405.1 545 404.1C548.2 403.1 551.3 401.7 554.5 400.5C557.7 399.3 560.9 397.9 564.1 396.9C567.3 395.9 570.8 395 573.8 394.5C576.8 394 579.3 393.2 582 393.7C584.7 394.1 590.3 395.9 590 397.2C589.7 398.5 582.7 400.4 580 401.7C577.3 403 576.4 403.8 573.8 405.2C571.1 406.6 567.3 408.7 564.1 410.1C560.9 411.5 558.5 412.5 554.5 413.7C550.5 414.9 544.8 416 540 417.2C535.2 418.4 530.5 420.1 525.7 420.9C520.9 421.7 516.9 422 511.3 422.1C505.7 422.2 498.2 421.8 492 421.6C485.8 421.4 475.6 421.8 474 420.9Z" fill="#FF8000"/>
<path d="M44 131C44.6 131.6 49.4 130.2 51.7 129.8C54 129.5 55.8 129.2 58 128.9C60.2 128.6 62.8 128.4 65.2 128C67.6 127.5 69.9 126.8 72.4 126.2C75 125.6 77.3 124.7 80.5 124.5C83.7 124.3 87.7 125 91.3 125.1C94.9 125.2 99 125.5 102 125.1C105 124.6 106.9 123.8 109.3 122.4C111.7 121.1 114.7 118.7 116.5 117C118.3 115.3 119.7 113.8 120 112.5C120.3 111.2 119.8 109.6 118.3 109C116.8 108.4 113.7 108.6 111 109C108.3 109.4 104.5 110.8 102 111.6C99.5 112.4 97.8 113.2 95.9 114C94 114.8 92.3 115.7 90.5 116.3C88.7 116.9 86.7 117 85 117.6C83.3 118.2 82 119.2 80.5 119.9C79 120.7 77.3 121.6 76 122.1C74.7 122.5 73.5 123 72.9 122.6C72.3 122.1 72.9 120.1 72.4 119.4C71.9 118.7 70.9 118.1 69.7 118.5C68.5 118.9 66.6 120.6 65.2 121.7C63.8 122.8 62.4 124.3 61.2 125.3C60 126.3 59.5 127.1 58 127.5C56.5 127.9 53.1 128 52.2 127.5C51.3 127 51.9 125.5 52.6 124.4C53.3 123.3 55.4 121.9 56.2 120.8C57 119.7 58.1 117.7 57.6 117.7C57.1 117.7 55.1 119.4 53.5 120.8C51.9 122.2 49.6 124.3 48 126C46.4 127.7 43.4 130.4 44 131Z" fill="#FFCA00"/>
<path d="M61.6 115.4C62.1 114.9 63.6 114.1 64.8 113.6C66 113.1 67.8 112.3 68.8 112.2C69.8 112.1 70.6 112.6 70.6 113.1C70.6 113.5 69.7 114.4 68.8 114.9C67.9 115.4 66.3 116 65.2 116.3C64.1 116.6 62.6 116.7 62 116.5C61.4 116.3 61.1 115.9 61.6 115.4Z" fill="#FFCA00"/>
<path d="M158 118C159.5 115.9 163.4 113.7 166 112.5C168.6 111.3 171 110.6 173.5 111C176 111.4 179.2 113.3 181 115C182.8 116.7 184 118.5 184 121C184 123.5 182.8 127.7 181 130C179.2 132.3 176 134 173.5 135C171 136 168.2 136.5 166 136C163.8 135.5 161.5 133.8 160 132C158.5 130.2 157.3 127.3 157 125C156.7 122.7 156.5 120.1 158 118Z" fill="#FFCA00"/>
<path d="M262 122.5C262.7 120.4 264.1 117.1 266 115C267.9 112.9 270.6 111 273.5 110C276.4 109 280.6 110.4 283.5 108.7C286.4 107 288.5 101.9 291 100C293.5 98.1 296.7 97.3 298.5 97.5C300.3 97.7 300.3 100.6 302 101C303.7 101.4 306.2 100.2 308.5 100C310.8 99.8 314.4 99.2 316 100C317.6 100.8 318.4 102.9 318 105C317.6 107.1 314.5 109.2 313.5 112.5C312.5 115.8 312.8 121.7 312 125C311.2 128.3 310.2 130.4 308.5 132.5C306.8 134.6 304.1 135.6 302 137.5C299.9 139.4 298.7 142.4 296 143.7C293.3 144.9 289.2 144.6 286 145C282.8 145.4 279.3 144.8 277 146C274.7 147.2 273.7 152.7 272 152.5C270.3 152.3 268 147.9 267 145C266 142.1 266.8 137.9 266 135C265.2 132.1 262.7 129.6 262 127.5C261.3 125.4 261.3 124.6 262 122.5Z" fill="#FFCA00"/>
<circle cx="300.5" cy="120.7" r="1.8" fill="#FF8000"/>
<path d="M571.7 128.7C572.1 127.2 578.2 127.5 580.5 126C582.8 124.5 583 120.6 585.5 120C588 119.4 592.2 121.5 595.5 122.5C598.8 123.5 602.4 124.8 605.5 126C608.6 127.2 612.6 128.7 614 130C615.4 131.3 615.8 132.7 614 133.7C612.2 134.7 606.9 135.2 603 136C599.1 136.8 594.2 138 590.5 138.7C586.8 139.4 582.6 140.6 580.5 140C578.4 139.4 579.5 136.9 578 135C576.5 133.1 571.3 130.2 571.7 128.7Z" fill="#FFCA00"/>
<path d="M377 255C377.2 252.3 377.2 245.4 378 242.5C378.8 239.6 380.7 237.8 382 237.5C383.3 237.2 384.8 239.1 385.7 241C386.6 242.9 387.5 246.2 387.5 248.7C387.5 251.2 386.8 253.9 385.7 256C384.6 258.1 382.1 260.6 380.7 261C379.2 261.4 377.6 259.7 377 258.7C376.4 257.7 376.8 257.7 377 255Z" fill="#FFCA00"/>
<path d="M-5 108C5.8 119.3 46.7 108.7 60 108C73.3 107.3 70.8 104 75 103.7C79.2 103.4 82.1 106.8 85 106C87.9 105.2 90 100.4 92.5 98.7C95 97 97.5 97.3 100 96C102.5 94.7 104.6 92.4 107.5 91C110.4 89.6 113.8 88.9 117.5 87.5C121.2 86.1 126.2 82.9 130 82.5C133.8 82.1 136.7 84.2 140 85C143.3 85.8 146.7 86.7 150 87.5C153.3 88.3 157.3 89.4 160 90C162.7 90.6 162.5 90.6 166 91C169.5 91.4 176.4 92 181 92.5C185.6 93 190.6 92.5 193.5 93.7C196.4 95 196.8 98.3 198.5 100C200.2 101.7 201 102.5 203.5 103.7C206 105 209.8 107.1 213.5 107.5C217.2 107.9 222.7 106.8 226 106C229.3 105.2 231 104.3 233.5 102.5C236 100.7 238.9 96.9 241 95C243.1 93.1 243.9 92 246 91C248.1 90 250.6 89.3 253.5 88.7C256.4 88.1 260.6 87.3 263.5 87.5C266.4 87.7 268.9 89.4 271 90C273.1 90.6 273.9 91 276 91C278.1 91 280.2 90.6 283.5 90C286.8 89.4 292.2 88.3 296 87.5C299.8 86.7 302.7 85.8 306 85C309.3 84.2 312.7 83.2 316 82.5C319.3 81.8 323.3 81.4 326 81C328.7 80.6 328.5 81.2 332 80C335.5 78.8 342 75 347 74C352 73 357 73.5 362 73.7C367 73.9 374.1 74.2 377 75C379.9 75.8 381.6 77.9 379.5 78.7C377.4 79.5 368.4 79.4 364.5 80C360.6 80.6 358.9 81.5 356 82.5C353.1 83.5 348.9 83.9 347 86C345.1 88.1 345.3 92.2 344.5 95C343.7 97.8 342.8 100.4 342 102.5C341.2 104.6 339.3 105.8 339.5 107.5C339.7 109.2 343.4 110.4 343 112.5C342.6 114.6 338.8 117.8 337 120C335.2 122.2 333.8 123.9 332 126C330.2 128.1 327.2 130.2 326 132.5C324.8 134.8 324.6 137.1 325 140C325.4 142.9 328.3 147.1 328.5 150C328.7 152.9 326.6 154.6 326 157.5C325.4 160.4 324.6 164.2 325 167.5C325.4 170.8 327.3 175.2 328.5 177.5C329.7 179.8 329.8 180.9 332 181.5C334.2 182.1 338.7 181.2 342 181C345.3 180.8 349.5 181 352 180C354.5 179 356.3 176.7 357 175C357.7 173.3 357 172.1 356 170C355 167.9 351.5 164.6 351 162.5C350.5 160.4 351.6 159.2 353 157.5C354.4 155.8 357.6 153.8 359.5 152.5C361.4 151.2 362.8 149.6 364.5 150C366.2 150.4 368.1 153.3 369.5 155C370.9 156.7 370.9 159.2 373 160C375.1 160.8 379.2 159.6 382 160C384.8 160.4 387.7 161.2 389.5 162.5C391.3 163.8 393 165.8 393 167.5C393 169.2 390.7 171.2 389.5 172.5C388.3 173.8 386.2 173.3 386 175C385.8 176.7 386.2 180.4 388 182.5C389.8 184.6 393.8 185.4 397 187.5C400.2 189.6 403.7 192.3 407 195C410.3 197.7 414.1 202.4 417 203.7C419.9 204.9 422.2 203.1 424.5 202.5C426.8 201.9 429 201.2 430.7 200C432.4 198.8 434.1 197.1 434.5 195C434.9 192.9 433.4 190 433 187.5C432.6 185 431.8 182.5 432 180C432.2 177.5 434.5 175.8 434.5 172.5C434.5 169.2 433.1 163.8 432 160C430.9 156.2 429.2 153.8 428 150C426.8 146.2 426.2 140.8 424.5 137.5C422.8 134.2 420.1 132.5 418 130C415.9 127.5 414.1 125.4 412 122.5C409.9 119.6 406.9 115.8 405.7 112.5C404.4 109.2 402.6 104.8 404.5 102.5C406.4 100.2 411.6 99.3 417 98.7C422.4 98.1 430.3 98.7 437 98.7C443.7 98.7 451.2 98.5 457 98.7C462.8 98.9 467 99.2 472 100C477 100.8 482.7 102.7 487 103.7C491.3 104.7 493.7 105.4 498 106C502.3 106.6 508 107.3 513 107.5C518 107.7 523 107.2 528 107C533 106.8 538 106.2 543 106C548 105.8 554.2 105.3 558 106C561.8 106.7 563 108.7 565.5 110C568 111.3 570.9 112.7 573 113.7C575.1 114.7 576.8 116.6 578 116C579.2 115.4 579.2 111.8 580.5 110C581.8 108.2 584.1 106.5 585.5 105C586.9 103.5 586.6 101.3 589 101C591.4 100.7 586.2 103.2 600 103C613.8 102.8 660 110.5 672 100C684 89.5 717.3 50 672 40C626.7 30 512.8 40 400 40C287.2 40 62.5 28.7 -5 40C-72.5 51.3 -15.8 96.7 -5 108Z" fill="#FF0000"/>
<path d="M333 150C333.3 148 336 143.7 338 143C340 142.3 343.5 144.5 345 146C346.5 147.5 347.5 150.3 347 152C346.5 153.7 343.8 155.5 342 156C340.2 156.5 337.5 156 336 155C334.5 154 332.7 152 333 150Z" fill="#FF8000"/>
<path d="M383 141C384.7 140.3 392 140.4 394 141C396 141.6 396.7 143.8 395 144.5C393.3 145.2 386 145.6 384 145C382 144.4 381.3 141.7 383 141Z" fill="#FF8000"/>
<path d="M416.8 171.5C417.1 170 419.5 169.1 421.3 169.7C423.1 170.3 426.2 173.2 427.6 175C429 176.8 429.8 179.1 429.4 180.5C428.9 181.9 426.5 183.5 424.9 183.2C423.2 182.9 420.9 180.6 419.5 178.7C418.1 176.8 416.5 173 416.8 171.5Z" fill="#FF8000"/>
<path d="M401.5 199.5C401.5 198.7 402.9 198.8 404 200C405.1 201.2 407.4 205.1 408 206.5C408.6 207.9 408.2 208.8 407.5 208.5C406.8 208.2 405 206.5 404 205C403 203.5 401.5 200.3 401.5 199.5Z" fill="#FFFF4A"/>
<circle cx="249" cy="103" r="2" fill="#FF0000"/>
<circle cx="230" cy="143" r="1.5" fill="#FF0000"/>
<path d="M197 395 L206 393.7 L218.5 393.7 L222 398.7 L213.5 400 L203.5 397.5Z" fill="#FF0000"/>
<path d="M225 411 L233.5 412 L235 415 L226 415Z" fill="#FF0000"/>
<path d="M366 412.5C367 410.9 370.8 409.2 373 407.5C375.2 405.8 376.8 403.6 379.5 402.5C382.2 401.4 386.4 400.8 389.5 401C392.6 401.2 396.3 402.2 398 403.7C399.7 405.2 398 408.8 399.5 410C401 411.2 406.2 410.2 407 411C407.8 411.8 406.6 414.2 404.5 415C402.4 415.8 397 415.2 394.5 416C392 416.8 392.8 419.4 389.5 420C386.2 420.6 378.2 420 374.5 419.5C370.8 419 368.4 418.2 367 417C365.6 415.8 365 414.1 366 412.5Z" fill="#FF0000"/>
<path d="M100 62C101.7 67.8 107.4 72.7 110 74.5C112.6 76.3 113.1 73.3 115.5 72.8C117.9 72.3 121.5 71.9 124.5 71.3C127.5 70.7 130.8 69.6 133.5 69.2C136.2 68.8 138.8 69.3 141 68.9C143.2 68.5 145.2 67.5 147 66.8C148.8 66.1 149 65.2 151.5 64.8C154 64.4 153.9 64.4 162 64.3C170.1 64.2 185.3 64.2 200 64.2C214.7 64.2 233.3 64.1 250 64C266.7 63.9 286.3 63.6 300 63.8C313.7 64 324.2 65.1 332 65.3C339.8 65.5 342 64.9 347 65C352 65.1 357 65.6 362 66C367 66.4 373.7 66.7 377 67.5C380.3 68.3 379.5 70.2 382 71C384.5 71.8 388.7 72 392 72.5C395.3 73 398.2 73.1 402 73.7C405.8 74.3 409.5 75.1 414.5 76C419.5 76.9 427.8 78.8 432 79.3C436.2 79.8 437 79.4 440 79C443 78.6 445.8 77.7 450 77C454.2 76.3 460.8 75.5 465 75C469.2 74.5 472 74.4 475 74C478 73.6 480.2 73.1 483 72.5C485.8 71.9 489.3 70.9 492 70.3C494.7 69.7 496.1 69.2 499 69C501.9 68.8 506 68.7 509.5 68.8C513 68.9 516.8 69.1 520 69.5C523.2 69.9 526 70.5 529 71C532 71.5 534.8 72.1 538 72.5C541.2 72.9 544.3 72.9 548 73.5C551.7 74.1 555.5 76.6 560 76C564.5 75.4 573 76 575 70C577 64 612.8 45 572 40C531.2 35 408.7 40 330 40C251.3 40 138.3 36.3 100 40C61.7 43.7 98.3 56.2 100 62Z" fill="#800000"/>
<path d="M92.5 382.5 L101 380 L109 379.5 L112.5 382.5 L125 382.5 L137.5 382.5 L144 385 L150 390 L166 391 L191 391 L195 395 L198.5 400 L203.5 405 L216 407.5 L223.5 411 L226 417 L181 417 L173.5 413.7 L166 410 L160 408.7 L150 407.5 L140 406 L132.5 402.5 L120 402.5 L110 398.7 L100 396 L96 390Z" fill="#AAAAAA"/>
<path d="M332.6 374 L330.6 377.5 L326.6 377.5 L324.6 374 L326.6 370.5 L330.6 370.5Z" fill="#AAAAAA"/>
<path d="M338.9 377.5 L336.9 381 L332.9 381 L330.9 377.5 L332.9 374 L336.9 374Z" fill="#AAAAAA"/>
<path d="M350.3 374 L347.8 378.3 L342.8 378.3 L340.3 374 L342.8 369.7 L347.8 369.7Z" fill="#AAAAAA"/>
<path d="M365.2 378 L363.4 381.2 L359.6 381.2 L357.8 378 L359.6 374.8 L363.4 374.8Z" fill="#AAAAAA"/>
<path d="M371.8 373.5 L370.4 375.9 L367.6 375.9 L366.2 373.5 L367.6 371.1 L370.4 371.1Z" fill="#AAAAAA"/>
<path d="M99.7 93.6 L107.7 91.6 L111.6 90.6 L109.9 87.6 L119 84.6 L129.6 82.1 L136.1 83.7 L146.1 85.2 L152.5 86.6 L163.9 84.6 L166.8 85.6 L173.5 85.6 L177.4 88.6 L186.9 88.6 L197.7 88.6 L202.4 89.6 L207.2 86.6 L209 81.7 L211.3 84.6 L211.9 87.6 L214.6 89.6 L219.9 85.6 L223.9 86.6 L220.7 90.6 L214 92.6 L210.7 95.6 L201.7 98.8 L194.2 105.1 L193.2 107.9 L193.3 111.5 L199.5 112.6 L202.7 115.3 L206.5 115.9 L204.9 120.3 L206.4 124.1 L208.2 123.7 L210.6 118.1 L215.6 113.7 L216.7 108.3 L219.6 104 L221 100 L226.6 100.2 L231 103 L229.8 107.2 L231.4 108.7 L235 107.2 L238.4 104.4 L239.7 110.5 L239.9 113.7 L243.4 117 L244.7 122.6 L238.9 126.4 L229.3 126.6 L223.6 129.3 L218.1 133.8 L226.8 129.3 L229.1 129.8 L227 133.8 L228 136.1 L232.6 137.3 L228 139.3 L223.3 141.4 L224.1 138.4 L222.5 138.4 L216.6 141.4 L214.3 145.3 L215.3 146 L207.9 148.5 L206.2 151.5 L204 153.4 L202.3 156.9 L201.9 160.8 L198.1 163.4 L194 166.2 L190.7 169.7 L189.4 173.2 L190.5 180.1 L189.5 184.1 L187.7 184.3 L186 178.5 L186.6 174.8 L184.7 173.2 L181.9 173.6 L179.6 172.2 L175.1 172.7 L174.9 175 L172 174.8 L166.9 174.1 L160.8 177.8 L159.3 182.5 L157.3 190.6 L159.4 198.3 L161.8 200.6 L167.3 199.9 L169.8 194.1 L176.2 192.9 L174.7 198.8 L172.7 203.4 L171.7 206.2 L176.6 206.2 L181.5 208.1 L179.9 217.4 L181.9 221.6 L184.6 222.5 L187.4 220.9 L191.3 223.2 L193.8 220.9 L194.8 218.1 L197.3 216.9 L201.4 214.6 L202.5 217.4 L201.4 220.9 L203 217.9 L205 215.5 L208 217.9 L212.1 218.3 L215.8 219.3 L219.5 218.1 L221.2 220.9 L222.9 223.2 L225.5 226.7 L228.2 229 L233.7 229.5 L237.3 232.1 L239.1 234.9 L240.9 239.5 L240.9 243 L243.6 244.2 L246.4 244.6 L251 248.8 L255.6 249.5 L259.3 249.5 L262 251.6 L264.8 254.2 L268.1 255.8 L268.9 260.5 L268.6 264 L265.1 268.6 L262.5 273.3 L261.8 279.1 L261.2 284.9 L259.7 290.7 L259 294.2 L255.5 296.5 L252.1 298.2 L248.7 300.5 L246.2 303.5 L246.4 309.4 L244 315.2 L241.1 319.8 L239.8 322.6 L237.4 324.3 L233 323.3 L231.3 322.6 L234.1 326.8 L234.4 331.5 L230.6 333.5 L226.9 333.8 L227.8 338.4 L223.3 338.4 L224.4 342.5 L226.3 341.9 L225.2 347.6 L222.3 349.9 L226 354 L224.3 359 L223.9 362.3 L225.6 364.3 L222.8 367.4 L219 365.7 L214.8 361.2 L211.2 355.6 L210.9 349.9 L211.2 343 L208.5 338.4 L207.1 331.5 L207.5 325.6 L208 319.8 L206.7 312.8 L207.1 303.5 L206.6 294.2 L205.6 286.1 L202.2 282.6 L196.4 278.6 L193.8 274.4 L191.9 270.9 L189.2 265.1 L186.6 259.3 L183.9 257 L183.6 253.5 L185.9 250.7 L185.9 248.4 L184 245.3 L185.8 241.8 L187.7 239.5 L188.7 237.2 L190.9 234.2 L190.7 230.2 L190.3 226 L187.3 222.7 L185.7 226 L181.2 223.9 L176.1 219.7 L176.1 217.4 L173.3 212.7 L166.2 210.4 L161.3 205.3 L157.5 206.4 L151.8 203.9 L144.9 198.8 L142.7 195.3 L143.3 190.6 L139.1 184.1 L136.6 179 L134 173.2 L131.6 169.2 L131 173.2 L133 179 L135.1 186 L136.3 189.5 L132.7 184.8 L129.8 177.8 L128.6 172 L128 167.1 L126.9 163.8 L123.8 162.7 L123.2 157.3 L123.3 155 L123.3 149.2 L125.8 143 L130.2 135.7 L131.9 130.7 L134.8 130.4 L135.8 128.6 L134 126.4 L132.6 122.6 L132.6 119.2 L132.2 116.6 L133 112.6 L133.2 108.7 L129.8 108.3 L127.8 105.5 L121.6 105.1 L119.3 103 L115.7 103 L109.2 106.6 L103.8 108.3 L96.2 111.5 L89 114.4 L82.9 115.9 L88.1 113.7 L95.7 110.5 L99.6 107.6 L95.6 107.6 L94.8 105.5 L92.7 104 L96 99.8 L104.7 97.7 L107 95.6 L101.4 95.6 L99.7 93.6M82.9 115.9 L76.2 118.1 L68.7 120.3M225.6 364.8 L232.5 369.4 L228.9 371.2 L223.4 369 L222.8 365.7 L225.6 364.8M246.9 69.6 L255.1 66.6 L263.7 64.4 L277.7 63.2 L295 61.6 L305.3 62.9 L312.4 65.1 L309 69.9 L309.5 73.4 L305.9 78.9 L302.5 83.7 L296.4 87.6 L287.8 89.6 L280.1 93 L274.6 97.7 L268.9 105.1 L265.7 103.4 L261.8 99.8 L260.5 95.6 L259.6 90.6 L262.3 85.6 L261 82.7 L261.8 77 L259.4 73.8 L252.3 73.4 L248.8 71.6 L246.9 69.6M232 77.6 L235.7 79.5 L240.1 82.7 L242.6 86.6 L248 90.6 L243.4 94.6 L237 100.8 L231.2 96.7 L224 95.6 L231.2 92.6 L234.4 88 L228.5 84.6 L220.6 84.6 L217.4 81.7 L221.9 77.6 L232 77.6M178.4 84.6 L182.7 87.2 L192.5 86.6 L198.8 84.6 L198.4 79.8 L193 78.9 L183.1 79.8 L178.6 81.7 L178.4 84.6M171.8 80.8 L172.8 82.3 L182.5 78 L187.7 76.7 L182.1 76.1 L175 78 L171.8 80.8M224 72.5 L235.7 72.9 L240.7 69.9 L252.2 67.4 L264.8 62.9 L251.6 62 L232.5 64.4 L233 68.2 L224 72.5M218.5 75.8 L233.4 75.8 L235.3 73.4 L221.5 72.5 L218.5 75.8M202.9 75.2 L212.8 75.2 L214.3 72.5 L204.9 73.4 L202.9 75.2M204 80.8 L208.4 81.7 L212.8 78 L207 77.4 L204 80.8M188.1 75.2 L198.3 76.1 L203 74 L197 72.9 L188.1 75.2M223.7 68.2 L233.8 67.4 L231.7 65.1 L223.2 66.6 L223.7 68.2M389.3 170.4 L386.9 169.7 L383.5 170.8 L376.4 169 L371 166.4 L367.5 167.3 L367.7 170.8 L364.2 172 L360.7 170.1 L359.3 167.8 L355.3 166.4 L352.1 165.7 L350.3 163.8 L350.7 160.4 L351.5 157.3 L349.7 156.2 L344.6 156.9 L337.7 157.1 L334.3 158 L330.9 160.4 L327.4 161.1 L323.5 159.7 L322.3 159.7 L319.6 164.5 L316 168.5 L315.3 173.2 L313.2 176 L309.6 178.3 L306.8 182.5 L304 188.3 L302 194.1 L303.2 198.8 L302.7 205.8 L300.8 208.8 L302.2 214.4 L305.6 218.1 L308.8 222.5 L311.6 226.9 L315.8 229.5 L318.9 232.8 L323.4 231.1 L327.1 231.4 L330.8 230.9 L336.3 228.3 L340.5 228.3 L342.7 230.2 L345.4 232.8 L348.9 232.5 L350.6 235.3 L350 240.7 L349.1 244.6 L350 248.8 L354.2 253.5 L355.1 257 L356.7 264 L357.6 269.8 L354.8 277.9 L354 283.7 L356 289.6 L358.6 295.4 L359 301.2 L360.5 307 L362.5 312.8 L364 318.7 L364.5 322.6 L367.2 324 L370.8 322.6 L376.9 322.2 L380.5 320.5 L385.2 315.9 L388.2 311.7 L390.8 307 L391.4 302.4 L396.2 297.7 L395.7 289.6 L399.5 284.2 L404.2 281.4 L406.6 276.8 L406.5 267.4 L404.8 262.8 L404 258.1 L405 253.9 L407.8 247.7 L411.5 243 L416 237.9 L419.7 233.7 L422.3 227.9 L424.9 222 L425.9 215.5 L419.2 216.9 L414.7 218.6 L411.6 216.2 L411.3 213.9 L408.1 211.6 L404.3 206.9 L402.6 202.3 L399.9 198.8 L399.1 192.9 L396.1 187.1 L392.6 179 L389.8 173.2 L389.3 170.4M389.3 170.4 L392.6 170.1 L393.6 166.2 L394.7 159.7 L394.4 157.3 L391.1 158.5 L387.7 158.7 L385 158 L381.2 157.3 L379.3 155.7 L377.7 153.4 L378.4 151.1 L376.9 149.9 L377.3 148.8 L379.8 148.8 L381.4 147.6 L379.5 146.2 L376.4 147.8 L373 148.1 L372.3 149.5 L370.9 148.8 L371.6 151.5 L373.5 154.1 L372.2 155 L372.1 158 L370.4 157.6 L369 155 L368.3 152.2 L365.5 148.8 L365.3 145.8 L363.5 144.1 L359.1 141.8 L356.4 138.4 L355 137 L352.8 137.7 L353.3 140.7 L355.3 142.3 L359.4 145.5 L363.8 149.5 L361.3 148.8 L360.5 150.6 L361.7 152.2 L359.9 154.5 L359.4 154.1 L359.7 151.1 L357.9 149.5 L356.5 148.1 L353.6 146.4 L350.9 144.1 L349.7 141.8 L347.5 140 L345 141.2 L342.6 142.8 L340.1 142.1 L337.9 144.1 L338 145.8 L336.3 146.7 L333.9 148.1 L332.1 151.1 L332.9 152.9 L331.4 155.2 L329.2 157.3 L324.9 157.6 L323 159.2 L321.8 157.8 L319.9 156.4 L317.3 156.9 L317.6 153.4 L316.4 152.7 L317.8 147.6 L317.8 143 L319.3 141.4 L324.3 141.8 L329.3 142.1 L330.6 139.5 L330.6 136.1 L329 133.4 L325.3 132 L325 130.4 L329.4 130 L330.2 127.7 L332.9 128.2 L335 126.6 L336.5 124.6 L338.1 123.9 L339.6 121.4 L340.4 119.7 L343.4 119 L345.8 118.8 L345.9 115.9 L345 112 L348.3 110 L348 112.6 L347.9 114.8 L349.6 118.1 L352.6 117.2 L354.7 118.1 L358 117 L361 116.6 L362.6 117.2 L364.7 115.5 L364.5 111.5 L366.3 110 L368.7 111.1 L368.8 108.7 L367.3 106.8 L369.4 106.1 L373.8 105.9 L376.5 105.1 L374.1 103.8 L369.2 104.7 L365.6 105.1 L363.6 101.9 L363.2 98.8 L366.8 95 L367.7 93.6 L363.7 93 L362.4 95.6 L358.9 98.8 L357.6 101.9 L357.7 104 L360.2 105.5 L357.4 108.3 L357.6 112.6 L354.6 113.7 L352.4 115 L352 112.6 L350.2 109.4 L348.9 107.2 L348.1 106.1 L346.7 107.6 L343.3 109.4 L340.7 107.6 L339.9 104 L339.8 100.8 L342.6 98.8 L346.7 96.7 L349.2 93.6 L350.3 90.6 L352.8 88 L355.3 86.6 L357.7 85 L361.5 84.1 L365.8 82.7 L369.2 83.1 L373.4 84.2 L372.3 85.2 L376.5 86 L382.1 87 L388.2 89.6 L388.8 91.6 L385 92.6 L379.2 91.6 L380.7 94.6 L384.7 96.7 L388.5 95 L388.4 92.6 L392.9 91.6 L391.6 87.6 L395.4 90.6 L398.7 88.6 L405 87.6 L410.1 87 L412.5 85 L417.8 86.2 L422.3 87.2 L423.4 85.6 L419.9 82.7 L420.2 78.9 L425.2 79.8 L428.2 84.6 L431.1 88.6 L431.4 91.6 L433 89.6 L430.1 84.6 L427.8 79.8 L432.7 80.4 L434.7 78 L440.3 77 L439.7 74.9 L444.5 73.4 L451.3 72.9 L456.1 70.4 L461.1 72 L470.1 73.4 L474.8 77 L470.4 77 L475.1 78 L481.4 78 L488.5 77.6 L493.2 78.3 L500.2 81.7 L503.4 81.7 L506.2 80.8 L511 79.5 L511.6 78.9 L519.2 79.8 L525.5 80.8 L530.5 82.7 L536.6 82.3 L543.5 84.6 L546.6 86 L550.9 85.2 L554.1 84.6 L558.7 85.6 L558 84.6 L565.2 85 L572.7 86.6M92.5 86.6 L94.6 88 L96.6 90.6 L98.7 92.2 L91.6 95.6 L89.3 95.2 L86.5 92.6 L83.1 93.6M582.1 93.6 L582.8 95.2 L580.7 95.2 L587.3 98.8 L589.3 99.8 L584.6 101.3 L583.1 105.1 L575.8 105.1 L573.9 106.8 L576.3 109.8 L578 113.1 L579.7 118.1 L580.3 121.4 L580.8 124.8 L575.5 120.3 L569.1 113.7 L567.3 109.8 L566.6 104.7 L567.3 101.3 L567.1 99.8 L563 101.3 L559 102.3 L560.7 106.1 L555.3 106.6 L547.9 106.6 L543.5 106.6 L542.5 110.5 L542.3 114.8 L540.7 116.6 L546.1 118.6 L551.6 119.7 L554.3 123.7 L557.5 129.3 L558.3 133.8 L557.3 138.9 L554.1 143.5 L551.1 144.1 L550.3 146.4 L549 149.9 L548.9 151.5 L554.3 156.9 L556.1 160.4 L554.1 162 L551.5 162.7 L550.6 159.2 L549.4 155.7 L546 154.5 L544.5 151.1 L542.7 149.9 L539.9 152.2 L539 152.2 L538.3 148.8 L536.3 148.1 L534.6 151.8 L532.7 152.2 L534.9 154.5 L537.3 156.4 L539.5 155.5 L542.5 156.4 L540.5 158 L539.1 161.1 L542.2 165 L545.8 169 L546.5 171.1 L545.3 172 L547.6 173.6 L547.5 176.6 L546.2 180.6 L545.3 183.6 L543.5 186 L541.4 189.5 L537.7 191.1 L534.7 192.2 L531.3 193.6 L530.7 195.7 L529.9 192.9 L527 192.7 L524.6 194.6 L523.6 198.8 L526.4 203.4 L529.4 205.8 L531.5 211.6 L531.7 215.8 L528.8 218.6 L527.6 219 L524.5 222.5 L524 219.7 L521.5 218.3 L519.4 215.1 L516.5 213.4 L515.5 211.6 L514.8 213.9 L513.8 218.6 L514.8 221.6 L516.5 226 L518.4 227.2 L520.3 229 L522.1 232.5 L522.4 237.2 L523.7 239.7 L522.1 239.5 L518.3 236.5 L516.7 232.5 L516.2 229 L515.1 227.4 L512.7 224.4 L512.2 220.9 L512.4 216.2 L511.8 211.6 L510 208.1 L509.5 204.6 L507.9 203.4 L505.8 206.2 L503.6 205.8 L503.4 201.1 L501.1 196.9 L498.6 194.1 L497.3 191.1 L495 190.6 L492.5 192.2 L489 192.9 L488.4 196 L485.9 198.1 L483.6 201.6 L481.7 204.4 L478.6 206.2 L478.5 211.6 L478.1 216.2 L477.4 219 L475.7 222 L474.3 224.1 L472.4 222 L470.8 216.7 L468.8 212.7 L467 208.1 L465.3 203.4 L464 198.8 L463.4 194.1 L462.5 192.2 L460.4 194.6 L456.9 191.8 L458.1 189.5 L455.3 188.3 L453.3 187.1 L451.7 184.8 L447.7 184.3 L442.3 184.3 L437.8 183.9 L434.7 182.9 L433.5 180.1 L430 181.1 L426.7 180.1 L423.8 177.8 L421.7 174.3 L418.8 172.7 L417.1 173.2 L418.9 176.6 L421.5 180.8 L422.1 183.6 L423.4 182.7 L424.7 185.3 L425.3 187.1 L429.2 186.7 L432.3 182.7 L433 181.8 L433.6 186 L437.3 188.1 L439.9 190.9 L437.9 195.3 L436.7 198.8 L433.9 201.3 L431.8 203.4 L427.3 205.8 L421.7 209.7 L414.5 213.2 L411.8 213.4 L410.4 209.2 L410 204.6 L406.6 198.8 L403 192.9 L401.5 188.3 L398.6 183.6 L395.6 179 L394.2 177.8 L394.3 174.3 L393.4 177.8 L391.9 177.3 L390 173.2M381.3 147.1 L385.5 147.1 L388.6 145.3 L391.5 145.3 L394.2 146.9 L397.4 147.6 L400.7 147.6 L402.3 146.2 L401.8 143.7 L398.4 141.8 L395.6 139.8 L393.3 137.7 L394.5 135 L396.3 133.4 L393.5 133.8 L390 135.2 L389.9 136.8 L392.5 137.7 L390.7 138.6 L388.2 139.8 L387.6 137.9 L386.1 136.6 L387.3 135.9 L384.4 134.8 L382.8 135 L381.3 137.7 L380 140.2 L379.2 143 L378.9 144.8 L379.9 146.4 L381.3 147.1M409.9 138.4 L412.4 135 L416.2 133.8 L418.8 134.3 L420 137.9 L416.8 137.9 L416.7 139.8 L415.5 139.5 L417.3 142.5 L420 143.5 L421.2 146.4 L424.6 146.9 L422.2 149.9 L424 152.2 L424.6 155.7 L425.2 157.1 L421.9 157.6 L418.2 155.9 L416.1 153.6 L415.9 149.9 L417.5 149.2 L415.9 147.6 L413.7 145.3 L411.6 143 L410.2 140.2 L409.9 138.4M323.5 127 L327 126.4 L331 125.5 L334.7 124.6 L335.3 121 L333.1 120.3 L332.3 118.1 L330.3 115.9 L329.6 113.7 L328 113.7 L329.6 110 L326.6 110.2 L327.9 108.1 L325.2 108.1 L323.9 110.5 L324.2 113.7 L325.3 114.8 L324.9 116.4 L327.2 116.1 L328 118.1 L327.9 119.7 L325.6 119.7 L325.9 121 L326.3 121.9 L324.4 123 L327.6 123.9 L325.8 124.6 L323.5 127M323.2 122.1 L323 119.7 L324 117 L322.7 115.5 L320.1 115.5 L319.5 117.2 L317.2 117.7 L317.4 119.7 L318.6 120.1 L317.2 122.1 L316.6 123.2 L319.2 123.5 L321.9 122.3 L323.2 122.1M300.9 96.9 L304.3 97.7 L306.4 97.9 L311.5 96.1 L313.6 94.6 L312.2 92.2 L309.9 91.8 L307.1 92.6 L304.5 93 L302.4 91.8 L299.8 93 L302.1 93.8 L299.1 95 L301.7 96.1 L300.9 96.9M345.5 69.1 L349.2 70.8 L353.1 72.2 L357.3 69.9 L354.3 66.9 L348.6 67.1 L345.5 69.1M353.1 66.6 L363.3 66.3 L360.3 67.7 L353.1 66.6M400.3 82.7 L404.5 83.3 L407 81.7 L403.7 78.9 L404.7 76.1 L408 73.4 L414.3 72 L412.9 73.4 L407.2 76.1 L403.2 78 L402 80.8 L400.3 82.7M442.7 68.2 L450.4 69.9 L455.3 69.1 L449.8 67.4 L443.4 65.9 L442.7 68.2M505.4 77 L510.9 77.4 L515.4 75.2 L509.1 74.3 L501.8 74.3 L505.4 77M387.3 66.6 L395.3 66.6 L400.1 65.4 L393.7 64.4 L386.9 65.9 L387.3 66.6M561.1 170.1 L563 169.7 L562.3 166.2 L562.5 163.4 L566.5 162.7 L569.7 162.7 L569.8 162.2 L572.9 162.2 L574.4 161.5 L575.4 159.9 L574.4 156.9 L573.6 153.4 L573.3 151.1 L570.2 146.9 L568.6 147.6 L569.3 149.9 L570.7 153.4 L569.8 156.2 L567.5 156.9 L566.9 156.2 L566.8 159.2 L566.4 160.4 L562.1 160.4 L559.8 163.1 L558.7 165 L559.1 166.9 L561.1 170.1M567.9 146.4 L567.8 144.1 L572.3 145.3 L574.2 142.3 L572.4 140.7 L568.7 140 L565.2 137.5 L567.3 141.8 L566 143 L566.8 145.3 L567.9 146.4M564.6 136.1 L565.9 134.3 L561.8 129.3 L564.3 129.3 L557.8 123.7 L554.3 119.2 L552.1 117.5 L554.5 121.4 L558.7 127 L561.8 131.6 L564.6 136.1M548.1 189.9 L549.7 191.8 L550.2 188.3 L550 184.8 L548.6 184.8 L547.7 187.6 L548.1 189.9M528.7 198.3 L530.5 200.4 L532.1 199.2 L532.7 197.1 L530.8 196.2 L528.7 198.3M478.5 224.4 L479 227.9 L480 229 L482.2 227.9 L482.2 225.5 L480.7 222.7 L479.1 220.4 L478.5 224.4M550.3 199.9 L553.4 200.2 L553.7 204.6 L553.1 206.9 L554.4 210.4 L558.4 212.7 L558.5 213.9 L556.4 211.6 L554.1 210.9 L552 209.7 L550.9 208.1 L550 205.3 L551.1 205.3 L550.3 199.9M555.9 226.7 L558.5 225.5 L559.6 228.6 L562.4 229 L563.8 227.9 L563.9 224.4 L561.8 220.4 L560.2 223 L558.3 222.7 L555.7 224.4 L555.9 226.7M547 223.2 L550.7 218.6 L550.2 216.7 L547 223.2M558.1 219.7 L558.8 216.9 L561.5 216.9 L560.9 219.7 L558.1 219.7M555.3 218.6 L556.9 216 L555 215.5 L555.3 218.6M532.5 239.5 L534.3 239 L536.2 239.5 L536.7 237.2 L539.8 235.6 L541.5 232.3 L544.1 230.2 L546.2 226.7 L548.1 228.3 L550.6 230.7 L549.2 233 L548.4 234.9 L548.6 238.3 L550.9 240.7 L548.7 241.4 L548.1 244.9 L546.3 246.5 L545.6 250 L545.2 252.3 L542.8 252.5 L539.8 250.7 L537.5 251.1 L534.6 249.8 L534.4 246 L532.6 243.7 L532.5 239.5M507.1 230 L511.2 230.9 L513.1 234.2 L516 236.9 L518.8 238.8 L521.5 241.1 L523 243.7 L524.3 247.2 L526.9 250 L526.7 256.5 L524.3 256.7 L522.2 254.2 L520.1 252.3 L517.8 248.8 L516.6 245.3 L514.2 242.3 L513.6 239 L511.8 237.4 L509.5 234.4 L507.1 230M525.1 258.8 L527.6 257 L531.2 258.6 L535.2 257.9 L538.8 259.1 L542 261.2 L541.5 263.3 L535.6 262.3 L531.1 261.2 L527.4 260.2 L525.1 258.8M552.4 241.1 L554.2 240 L558.2 240.7 L561.9 239.3 L561 241.8 L554.6 241.8 L553.3 245.1 L555.5 245.3 L558.8 244.9 L557.8 247.2 L555.4 247.7 L556.8 250.7 L558 253.5 L556.1 254.2 L554.9 251.8 L554.1 249.5 L553.3 251.8 L552.9 255.8 L551.5 255.8 L551.6 251.1 L550.8 248.8 L552.4 243.5 L552.4 241.1M572.9 244.9 L575.7 243.9 L578.4 244.9 L579.2 248.8 L581 250.7 L584.8 247 L587.5 247.7 L591.1 249.1 L595.6 251.1 L599.7 254.6 L603 257 L602 258.8 L604.1 262.1 L607.3 267 L604.6 266.7 L601.1 265.1 L597.8 261.6 L595 262.6 L593 264.4 L590.3 264.2 L586.8 261.6 L584.9 262.6 L586.6 258.8 L585.3 255.8 L581.8 253.7 L577.3 251.8 L576 252.3 L574.6 249.5 L577.4 248.4 L574.7 247.7 L572.9 244.9M536.4 294.2 L537.7 293.8 L542.3 291 L547 289.6 L551.9 287.2 L554 283.3 L556.1 283.3 L558.5 279.8 L562.6 275.6 L565.1 277.5 L567.8 277.9 L569.3 273.3 L571.3 271.4 L574.2 269.8 L578.6 271.4 L581.9 271.4 L580.1 274.4 L578.7 277.9 L582 280.2 L585 283.7 L587.9 282.6 L589.9 277.9 L590.3 272.8 L592.6 268.1 L594 272.1 L594.3 276.8 L596.5 277.9 L596.8 283.7 L597.8 287.9 L600.8 290.7 L602.6 295.4 L605.7 301.2 L604.5 308.2 L601.2 315.2 L597.5 319.8 L594.3 323.3 L589.8 329.1 L585.4 331.2 L581.2 333.8 L579 331.9 L575.9 333.1 L572.4 331.5 L572.8 326.8 L570.6 326.1 L572.2 322.2 L572.2 319.8 L568.7 324.5 L567.1 324 L566.3 319.4 L563 316.3 L557.4 317.5 L552.8 318.2 L548.5 320.5 L542.8 321.9 L536.7 324.5 L532.8 323.1 L534.3 317.5 L535.1 312.8 L535.2 307 L534.6 302.4 L536.4 297.7 L536.4 294.2M576.2 337.9 L578.9 338.6 L582.2 338.2 L580.1 341.4 L577.1 343.9 L574.8 344.2 L575 341.9 L576.2 337.9M631.9 323.3 L633.7 325.2 L633.6 328.4 L633.6 330.5 L637.4 330.8 L634.4 334.2 L632.3 335.2 L629.1 338.4 L626.1 339.6 L628.1 336.1 L627.5 334.5 L630.6 331.5 L632.5 328 L631.8 324.5 L631.9 323.3M623.7 337.5 L625.1 339.1 L620.4 343 L615.4 346 L612 349.4 L608.6 351.2 L606 350.3 L605.2 349.2 L610.6 345.5 L616.5 342.5 L621.9 338.4 L623.7 337.5M422.5 270.9 L423.9 279.1 L422.2 283.7 L419.8 291.9 L416.9 300.7 L413.7 302.4 L411.2 300.7 L410.3 294.2 L412.4 289.6 L412.2 283.7 L415.1 280.2 L418.9 277.5 L421.4 273.3 L422.5 270.9M180.1 192 L183.8 189.7 L187.5 189.2 L190.9 190.6 L194.2 192.9 L197.6 194.8 L199 196 L192.9 196.7 L193.4 195.3 L191.4 194.1 L188.1 191.8 L185.5 190.9 L182.7 191.8 L180.1 192M198.2 200.2 L201.6 200.6 L203.3 201.8 L206.1 200.4 L209 199.9 L206.9 198.1 L203.4 196.9 L200.5 196.7 L201.7 198.8 L198.2 200.2M191.1 200.6 L194.6 201.3 L193.9 199.9 L191.1 200.6M211.1 200.6 L213.8 200.9 L213.4 199.9 L211.1 200.6M182.9 134.5 L188.2 131.6 L191.3 129.8 L194 131.1 L194.9 134.3 L191.7 135 L187.9 134.3 L182.9 134.5M185.7 146 L188.6 144.1 L189.9 140.7 L192.8 137.3 L191.1 136.6 L187.4 140.7 L185.7 146M194.3 136.6 L197.7 136.3 L200.3 138.4 L197.4 141.8 L195.5 143 L194.5 140.7 L195.7 138.4 L194.3 136.6M193 146 L197.1 145.3 L201 143.5 L199.1 144.1 L194.2 146.4 L193 146M200.3 142.3 L203.9 142.3 L206.4 140.7 L204.4 140.9 L200.3 142.3M390.8 244.2 L392.2 242.3 L395 242.5 L395.3 245.3 L394 248.1 L392.2 249.3 L390.9 247.2 L390.8 244.2M51 198.8 L53.1 197.6 L52 196 L51 198.8M50.6 194.6 L51.9 194.8 L51.3 194.1 L50.6 194.6M48.2 193.2 L49.1 193.2 L48.8 192.5 L48.2 193.2M45.8 191.8 L46.6 191.8 L46.3 191.3 L45.8 191.8M236.7 132.5 L241.5 134.3 L246.4 134.5 L247.4 132.2 L246.2 130.4 L243.9 128.2 L244.4 123.7 L241.4 125.9 L236.7 132.5M129.5 125.2 L131.1 129.8 L133.8 130.7 L133.6 127 L129.5 125.2M348.6 146.9 L349 149.9 L347.9 152 L346.9 151.8 L346.6 148.1 L348.6 146.9M347.2 146.4 L348.4 146.2 L348.2 143 L347.1 144.1 L347.2 146.4M353.9 154.5 L359 154.1 L358.7 157.3 L354 155.5 L353.9 154.5M373.2 161.1 L377.9 161.1 L374.9 160.1 L373.2 161.1M388.5 162.2 L392.1 160.1 L390.5 161.5 L388.5 162.2M495.9 123.5 L498.4 123 L500.7 120.3 L500.6 115.9 L499 114.4 L499.1 117.7 L497.6 120.3 L495.9 123.5M428.8 138.4 L429.5 135 L432.9 135.4 L433.5 138.9 L432 141.4 L429.5 141.2 L428.8 138.4M145 415 L152.5 413.5 L157 415 L155.5 412.6 L163 410.5 L170.5 409 L176.5 410.5 L178 407.5 L187 407.5 L193 409.6 L199 408.4 L203.5 406 L206.5 407.5 L209.5 405.4 L220 405.4 L233.5 404.5 L235 401.5 L239.5 399.4 L241 395.5 L245.5 394 L247.6 389.5 L250 388.6 L248.5 393.4 L244 397.6 L247 401.5 L253 403.6 L256 409 L254.5 413.5 L260.5 415 L270 416.3 L279 417.2 L288 417.2 L297 413.6 L306 409 L313.2 406.4 L317.7 403.6 L320.5 404.5 L322.3 402.2 L324 403.6 L327.7 401.8 L330.4 403.3 L332.2 403.6 L338.5 401.8 L345.7 401 L354.7 401.5 L363.7 402.2 L371 400 L377.2 398.2 L381.7 400 L390 396.8 L400 392.6 L412 393.5 L424 398 L427 401 L428.5 397.4 L445 394.4 L460 393.5 L475 392.6 L487 394.4 L499 393.5 L508 394.4 L514 392.6 L526 394.4 L532 398 L541 400.4 L547 402.5 L553 403.4 L544 407 L529 413 L515.6 417.5 L512.6 421.4 L520 423.5 L532 420.5 L547 413 L553 404M145 415 L149.5 418 L160 420.4 L164.5 418.6 L167.5 421 L154 421M146.5 422.5 L160 424 L179.5 425.5 L172 423.4" fill="none" stroke="#000" stroke-width="0.7" stroke-linejoin="round"/>
</g>
<path d="M156.9 430.8 L152.7 429.4 L146.7 427.4 L140.6 425.1 L134.1 422.4 L127.4 419.4 L120.6 416.1 L113.6 412.6 L107.2 409 L101.1 405.2 L95.3 401.4 L89.8 397.4 L84.4 393.4 L79.1 389.3 L73.9 385.2 L68.9 380.9 L64 376.6 L59.2 372.3 L54.6 367.9 L50.2 363.4 L46 359 L42.1 354.4 L38.5 349.9 L34.9 345.3 L31.5 340.7 L28.3 336.1 L25.3 331.5 L22.6 326.8 L20.1 322.2 L17.7 317.5 L15.6 312.8 L13.7 308.2 L12.1 303.5 L10.6 298.9 L9.4 294.2 L8.3 289.6 L7.2 284.9 L6.2 280.2 L5.3 275.6 L4.5 270.9 L3.9 266.3 L3.4 261.6 L3 257 L2.7 252.3 L2.5 247.7 L2.4 243 L2.5 238.3 L2.7 233.7 L3 229 L3.4 224.4 L3.9 219.7 L4.5 215.1 L5.3 210.4 L6.2 205.8 L7.2 201.1 L8.3 196.4 L9.4 191.8 L10.6 187.1 L12.1 182.5 L13.7 177.8 L15.6 173.2 L17.7 168.5 L20.1 163.8 L22.6 159.2 L25.3 154.5 L28.3 149.9 L31.5 145.3 L34.9 140.7 L38.5 136.1 L42.1 131.6 L46 127 L50.2 122.6 L54.6 118.1 L59.2 113.7 L64 109.4 L68.9 105.1 L73.9 100.8 L79.1 96.7 L84.4 92.6 L89.8 88.6 L95.3 84.6 L101.1 80.8 L107.2 77 L113.6 73.4 L120.6 69.9 L127.4 66.6 L134.1 63.6 L140.6 60.9 L146.7 58.6 L152.7 56.6 L156.9 55.2 L508.3 55.2 L512.5 56.6 L518.5 58.6 L524.6 60.9 L531.1 63.6 L537.8 66.6 L544.6 69.9 L551.6 73.4 L558 77 L564.1 80.8 L569.9 84.6 L575.4 88.6 L580.8 92.6 L586.1 96.7 L591.3 100.8 L596.3 105.1 L601.2 109.4 L606 113.7 L610.6 118.1 L615 122.6 L619.2 127 L623.1 131.6 L626.7 136.1 L630.3 140.7 L633.7 145.3 L636.9 149.9 L639.9 154.5 L642.6 159.2 L645.1 163.8 L647.5 168.5 L649.6 173.2 L651.5 177.8 L653.1 182.5 L654.6 187.1 L655.8 191.8 L656.9 196.4 L658 201.1 L659 205.8 L659.9 210.4 L660.7 215.1 L661.3 219.7 L661.8 224.4 L662.2 229 L662.5 233.7 L662.7 238.3 L662.8 243 L662.7 247.7 L662.5 252.3 L662.2 257 L661.8 261.6 L661.3 266.3 L660.7 270.9 L659.9 275.6 L659 280.2 L658 284.9 L656.9 289.6 L655.8 294.2 L654.6 298.9 L653.1 303.5 L651.5 308.2 L649.6 312.8 L647.5 317.5 L645.1 322.2 L642.6 326.8 L639.9 331.5 L636.9 336.1 L633.7 340.7 L630.3 345.3 L626.7 349.9 L623.1 354.4 L619.2 359 L615 363.4 L610.6 367.9 L606 372.3 L601.2 376.6 L596.3 380.9 L591.3 385.2 L586.1 389.3 L580.8 393.4 L575.4 397.4 L569.9 401.4 L564.1 405.2 L558 409 L551.6 412.6 L544.6 416.1 L537.8 419.4 L531.1 422.4 L524.6 425.1 L518.5 427.4 L512.5 429.4 L508.3 430.8Z" fill="none" stroke="#000" stroke-width="1.15"/>
<g class="t"><rect x="10.7" y="523.3" width="71.8" height="28.7" fill="#73C8FF"/>
<rect x="82.3" y="523.3" width="71.8" height="28.7" fill="#99EBFF"/>
<rect x="153.9" y="523.3" width="71.8" height="28.7" fill="#D9FFD9"/>
<rect x="225.5" y="523.3" width="71.8" height="28.7" fill="#FFFFFF"/>
<rect x="297.1" y="523.3" width="71.8" height="28.7" fill="#FFFF4A"/>
<rect x="368.7" y="523.3" width="71.8" height="28.7" fill="#FFCA00"/>
<rect x="440.3" y="523.3" width="71.8" height="28.7" fill="#FF8000"/>
<rect x="511.9" y="523.3" width="71.8" height="28.7" fill="#FF0000"/>
<rect x="583.5" y="523.3" width="71.8" height="28.7" fill="#800000"/>
<rect x="10.7" y="523.3" width="644.4" height="28.7" fill="none" stroke="#000" stroke-width="1.2"/>
<line x1="82.3" x2="82.3" y1="515" y2="560.5" stroke="#000" stroke-width="1.2"/>
<line x1="153.9" x2="153.9" y1="515" y2="560.5" stroke="#000" stroke-width="1.2"/>
<line x1="225.5" x2="225.5" y1="515" y2="560.5" stroke="#000" stroke-width="1.2"/>
<line x1="297.1" x2="297.1" y1="515" y2="560.5" stroke="#000" stroke-width="1.2"/>
<line x1="368.7" x2="368.7" y1="515" y2="560.5" stroke="#000" stroke-width="1.2"/>
<line x1="440.3" x2="440.3" y1="515" y2="560.5" stroke="#000" stroke-width="1.2"/>
<line x1="511.9" x2="511.9" y1="515" y2="560.5" stroke="#000" stroke-width="1.2"/>
<line x1="583.5" x2="583.5" y1="515" y2="560.5" stroke="#000" stroke-width="1.2"/>
<text transform="translate(55.3,509) scale(1.001,1)" font-size="25.4">-1.0</text>
<text transform="translate(55.3,586) scale(1.001,1)" font-size="25.4">-1.8</text>
<text transform="translate(126,509) scale(1.001,1)" font-size="25.4">-0.5</text>
<text transform="translate(126,586) scale(1.001,1)" font-size="25.4">-0.9</text>
<text transform="translate(196.8,509) scale(1.001,1)" font-size="25.4">-0.2</text>
<text transform="translate(196.8,586) scale(1.001,1)" font-size="25.4">-0.4</text>
<text transform="translate(267.6,509) scale(1.001,1)" font-size="25.4">+0.2</text>
<text transform="translate(267.6,586) scale(1.001,1)" font-size="25.4">+0.4</text>
<text transform="translate(338.3,509) scale(1.001,1)" font-size="25.4">+0.5</text>
<text transform="translate(338.3,586) scale(1.001,1)" font-size="25.4">+0.9</text>
<text transform="translate(409.1,509) scale(1.001,1)" font-size="25.4">+1.0</text>
<text transform="translate(409.1,586) scale(1.001,1)" font-size="25.4">+1.8</text>
<text transform="translate(479.8,509) scale(1.001,1)" font-size="25.4">+2.0</text>
<text transform="translate(479.8,586) scale(1.001,1)" font-size="25.4">+3.6</text>
<text transform="translate(550.5,509) scale(1.001,1)" font-size="25.4">+4.0°C</text>
<text transform="translate(550.5,586) scale(1.001,1)" font-size="25.4">+7.2°F</text></g>
</svg>
</body></html>
